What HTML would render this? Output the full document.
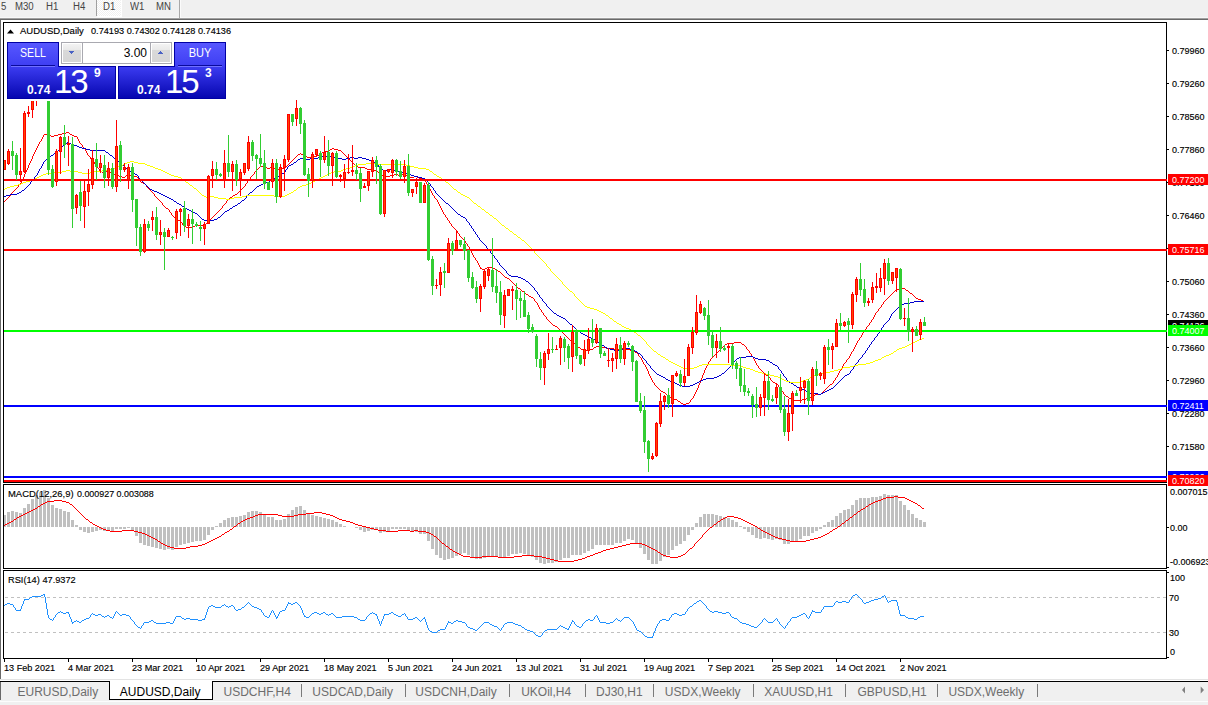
<!DOCTYPE html>
<html><head><meta charset="utf-8"><title>AUDUSD,Daily</title>
<style>
html,body{margin:0;padding:0;overflow:hidden;}
body{width:1208px;height:705px;overflow:hidden;background:#fff;position:relative;font-family:"Liberation Sans",sans-serif;}
.a{position:absolute;}
.t9{position:absolute;font-size:9.5px;line-height:11px;white-space:pre;color:#000;transform-origin:0 0;transform:scaleX(.947);-webkit-text-stroke:.15px #000;}
.tb{position:absolute;font-size:10px;line-height:11px;color:#444;white-space:pre;transform-origin:0 0;transform:scaleX(.96);}
.tab{position:absolute;font-size:12px;line-height:14px;color:#6d6d6d;white-space:pre;top:685px;}
.sep{position:absolute;width:1px;height:13px;top:684px;background:#7a7a7a;}
.pl{position:absolute;left:1168px;width:40px;height:11px;color:#fff;white-space:pre;overflow:hidden;}
.pl span{display:block;position:absolute;left:4px;top:0;font-size:9.5px;line-height:11px;transform-origin:0 0;transform:scaleX(.947);}
.ax{position:absolute;left:1172px;font-size:9.5px;line-height:11px;color:#000;white-space:pre;transform-origin:0 0;transform:scaleX(.947);-webkit-text-stroke:.15px #000;}
.tk{position:absolute;left:1167px;width:2px;height:1px;background:#000;}
</style></head><body>

<div class="a" style="left:0;top:0;width:1208px;height:17px;background:#f0f0f0"></div>
<div class="a" style="left:0;top:17px;width:1208px;height:1px;background:#f7f7f7"></div>
<div class="a" style="left:0;top:18px;width:1208px;height:1px;background:#a0a0a0"></div>
<div class="a" style="left:0;top:19px;width:1208px;height:1px;background:#696969"></div>
<div class="a" style="left:0;top:19px;width:1px;height:660px;background:#696969"></div>
<div class="a" style="left:96px;top:0;width:1px;height:16px;background:#a0a0a0"></div>
<svg class="a" style="left:97px;top:0" width="25" height="17" shape-rendering="crispEdges"><defs><pattern id="ck" width="2" height="2" patternUnits="userSpaceOnUse"><rect width="2" height="2" fill="#f0f0f0"/><rect width="1" height="1" fill="#fff"/><rect x="1" y="1" width="1" height="1" fill="#fff"/></pattern></defs><rect width="24" height="16" fill="url(#ck)"/><rect x="24" y="0" width="1" height="17" fill="#fff"/><rect x="0" y="16" width="25" height="1" fill="#fff"/></svg>
<div class="a" style="left:179px;top:0;width:1px;height:18px;background:#a8a8a8"></div>
<div class="a" style="left:180px;top:0;width:1px;height:18px;background:#fbfbfb"></div>
<div class="tb" style="left:0.5px;top:1px">5</div>
<div class="tb" style="left:15.2px;top:1px">M30</div>
<div class="tb" style="left:46px;top:1px">H1</div>
<div class="tb" style="left:73.2px;top:1px">H4</div>
<div class="tb" style="left:102.6px;top:1px">D1</div>
<div class="tb" style="left:130.2px;top:1px">W1</div>
<div class="tb" style="left:156px;top:1px">MN</div>
<div class="a" style="left:3px;top:22px;width:1164px;height:1px;background:#000"></div>
<div class="a" style="left:3px;top:22px;width:1px;height:637px;background:#000"></div>
<div class="a" style="left:1166px;top:22px;width:1px;height:637px;background:#000"></div>
<div class="a" style="left:3px;top:482px;width:1164px;height:1px;background:#000"></div>
<div class="a" style="left:1px;top:483px;width:1166px;height:1px;background:#fff"></div>
<div class="a" style="left:3px;top:484px;width:1164px;height:1px;background:#000"></div>
<div class="a" style="left:3px;top:568px;width:1164px;height:1px;background:#000"></div>
<div class="a" style="left:1px;top:569px;width:1166px;height:1px;background:#fff"></div>
<div class="a" style="left:3px;top:570px;width:1164px;height:1px;background:#000"></div>
<div class="a" style="left:3px;top:658px;width:1164px;height:1px;background:#000"></div>
<svg class="a" style="left:0;top:0" width="1208" height="705" viewBox="0 0 1208 705">
<defs><clipPath id="cm"><rect x="4" y="23" width="1162" height="459"/></clipPath><clipPath id="c2"><rect x="4" y="485" width="1162" height="83"/></clipPath><clipPath id="c3"><rect x="4" y="571" width="1162" height="87"/></clipPath></defs>
<path clip-path="url(#cm)" d="M4 201h1v1h-1zM5 200h1v1h-1zM6 199h1v1h-1zM7 198h1v1h-1zM8 197h1v1h-1zM9 196h1v1h-1zM10 194h1v2h-1zM11 193h1v1h-1zM12 192h1v1h-1zM13 191h1v1h-1zM14 190h1v1h-1zM15 189h1v1h-1zM16 188h1v1h-1zM17 187h1v1h-1zM18 185h1v2h-1zM19 184h1v1h-1zM20 183h1v1h-1zM21 181h1v2h-1zM22 179h1v2h-1zM23 177h1v2h-1zM24 174h1v3h-1zM25 172h1v2h-1zM26 170h1v2h-1zM27 168h1v2h-1zM28 165h1v3h-1zM29 163h1v2h-1zM30 161h1v2h-1zM31 159h1v2h-1zM32 156h1v3h-1zM33 154h1v2h-1zM34 152h1v2h-1zM35 150h1v2h-1zM36 148h1v2h-1zM37 146h1v2h-1zM38 144h1v2h-1zM39 142h1v2h-1zM40 141h1v1h-1zM41 139h1v2h-1zM42 137h1v2h-1zM43 135h1v2h-1zM44 134h1v1h-1zM45 134h1v1h-1zM46 134h1v1h-1zM47 134h1v1h-1zM48 134h1v1h-1zM49 135h1v1h-1zM50 135h1v1h-1zM51 136h1v1h-1zM52 136h1v1h-1zM53 136h1v1h-1zM54 135h1v1h-1zM55 135h1v1h-1zM56 135h1v1h-1zM57 135h1v1h-1zM58 134h1v1h-1zM59 134h1v1h-1zM60 134h1v1h-1zM61 134h1v1h-1zM62 133h1v1h-1zM63 133h1v1h-1zM64 133h1v1h-1zM65 133h1v1h-1zM66 132h1v1h-1zM67 132h1v1h-1zM68 132h1v1h-1zM69 133h1v1h-1zM70 134h1v1h-1zM71 134h1v1h-1zM72 135h1v1h-1zM73 135h1v1h-1zM74 136h1v1h-1zM75 136h1v1h-1zM76 136h1v1h-1zM77 137h1v2h-1zM78 139h1v2h-1zM79 141h1v2h-1zM80 143h1v1h-1zM81 144h1v1h-1zM82 145h1v2h-1zM83 147h1v1h-1zM84 148h1v1h-1zM85 149h1v2h-1zM86 151h1v2h-1zM87 153h1v2h-1zM88 155h1v1h-1zM89 156h1v1h-1zM90 157h1v2h-1zM91 159h1v1h-1zM92 160h1v1h-1zM93 161h1v1h-1zM94 162h1v2h-1zM95 164h1v1h-1zM96 165h1v1h-1zM97 166h1v2h-1zM98 168h1v1h-1zM99 169h1v2h-1zM100 171h1v1h-1zM101 171h1v1h-1zM102 172h1v1h-1zM103 172h1v1h-1zM104 172h1v1h-1zM105 172h1v1h-1zM106 171h1v1h-1zM107 171h1v1h-1zM108 171h1v1h-1zM109 172h1v1h-1zM110 172h1v1h-1zM111 173h1v1h-1zM112 173h1v1h-1zM113 173h1v1h-1zM114 174h1v1h-1zM115 174h1v1h-1zM116 174h1v1h-1zM117 175h1v1h-1zM118 175h1v1h-1zM119 176h1v1h-1zM120 176h1v1h-1zM121 176h1v1h-1zM122 177h1v1h-1zM123 177h1v1h-1zM124 177h1v1h-1zM125 176h1v1h-1zM126 175h1v1h-1zM127 175h1v1h-1zM128 174h1v1h-1zM129 174h1v1h-1zM130 175h1v1h-1zM131 175h1v1h-1zM132 175h1v1h-1zM133 175h1v1h-1zM134 176h1v1h-1zM135 176h1v1h-1zM136 176h1v1h-1zM137 177h1v1h-1zM138 178h1v2h-1zM139 180h1v1h-1zM140 181h1v1h-1zM141 182h1v1h-1zM142 182h1v1h-1zM143 183h1v1h-1zM144 183h1v1h-1zM145 184h1v1h-1zM146 185h1v2h-1zM147 187h1v1h-1zM148 188h1v1h-1zM149 189h1v1h-1zM150 190h1v1h-1zM151 191h1v1h-1zM152 192h1v1h-1zM153 193h1v1h-1zM154 194h1v2h-1zM155 196h1v1h-1zM156 197h1v1h-1zM157 198h1v1h-1zM158 199h1v1h-1zM159 200h1v1h-1zM160 201h1v1h-1zM161 202h1v1h-1zM162 203h1v2h-1zM163 205h1v1h-1zM164 206h1v1h-1zM165 207h1v1h-1zM166 208h1v1h-1zM167 208h1v1h-1zM168 209h1v1h-1zM169 210h1v2h-1zM170 212h1v1h-1zM171 213h1v2h-1zM172 215h1v1h-1zM173 216h1v1h-1zM174 217h1v1h-1zM175 217h1v1h-1zM176 218h1v1h-1zM177 219h1v1h-1zM178 220h1v1h-1zM179 220h1v1h-1zM180 221h1v1h-1zM181 222h1v1h-1zM182 223h1v2h-1zM183 225h1v1h-1zM184 226h1v1h-1zM185 226h1v1h-1zM186 227h1v1h-1zM187 227h1v1h-1zM188 227h1v1h-1zM189 227h1v1h-1zM190 227h1v1h-1zM191 227h1v1h-1zM192 227h1v1h-1zM193 226h1v1h-1zM194 226h1v1h-1zM195 225h1v1h-1zM196 225h1v1h-1zM197 225h1v1h-1zM198 225h1v1h-1zM199 225h1v1h-1zM200 225h1v1h-1zM201 225h1v1h-1zM202 225h1v1h-1zM203 225h1v1h-1zM204 225h1v1h-1zM205 224h1v1h-1zM206 223h1v1h-1zM207 223h1v1h-1zM208 222h1v1h-1zM209 221h1v1h-1zM210 219h1v2h-1zM211 218h1v1h-1zM212 217h1v1h-1zM213 216h1v1h-1zM214 215h1v1h-1zM215 214h1v1h-1zM216 213h1v1h-1zM217 212h1v1h-1zM218 211h1v1h-1zM219 210h1v1h-1zM220 209h1v1h-1zM221 208h1v1h-1zM222 206h1v2h-1zM223 205h1v1h-1zM224 204h1v1h-1zM225 203h1v1h-1zM226 201h1v2h-1zM227 200h1v1h-1zM228 199h1v1h-1zM229 198h1v1h-1zM230 197h1v1h-1zM231 197h1v1h-1zM232 196h1v1h-1zM233 195h1v1h-1zM234 195h1v1h-1zM235 194h1v1h-1zM236 194h1v1h-1zM237 193h1v1h-1zM238 192h1v1h-1zM239 191h1v1h-1zM240 190h1v1h-1zM241 189h1v1h-1zM242 188h1v1h-1zM243 187h1v1h-1zM244 186h1v1h-1zM245 184h1v2h-1zM246 183h1v1h-1zM247 181h1v2h-1zM248 180h1v1h-1zM249 179h1v1h-1zM250 177h1v2h-1zM251 176h1v1h-1zM252 175h1v1h-1zM253 174h1v1h-1zM254 172h1v2h-1zM255 171h1v1h-1zM256 170h1v1h-1zM257 169h1v1h-1zM258 168h1v1h-1zM259 167h1v1h-1zM260 166h1v1h-1zM261 166h1v1h-1zM262 166h1v1h-1zM263 166h1v1h-1zM264 166h1v1h-1zM265 167h1v1h-1zM266 167h1v1h-1zM267 168h1v1h-1zM268 168h1v1h-1zM269 168h1v1h-1zM270 167h1v1h-1zM271 167h1v1h-1zM272 167h1v1h-1zM273 168h1v1h-1zM274 168h1v1h-1zM275 169h1v1h-1zM276 169h1v1h-1zM277 169h1v1h-1zM278 169h1v1h-1zM279 169h1v1h-1zM280 169h1v1h-1zM281 169h1v1h-1zM282 168h1v1h-1zM283 168h1v1h-1zM284 168h1v1h-1zM285 167h1v1h-1zM286 166h1v1h-1zM287 165h1v1h-1zM288 164h1v1h-1zM289 163h1v1h-1zM290 162h1v1h-1zM291 161h1v1h-1zM292 160h1v1h-1zM293 159h1v1h-1zM294 158h1v1h-1zM295 157h1v1h-1zM296 156h1v1h-1zM297 155h1v1h-1zM298 154h1v1h-1zM299 154h1v1h-1zM300 153h1v1h-1zM301 154h1v1h-1zM302 154h1v1h-1zM303 155h1v1h-1zM304 155h1v1h-1zM305 156h1v1h-1zM306 156h1v1h-1zM307 157h1v1h-1zM308 157h1v1h-1zM309 157h1v1h-1zM310 157h1v1h-1zM311 157h1v1h-1zM312 157h1v1h-1zM313 157h1v1h-1zM314 156h1v1h-1zM315 156h1v1h-1zM316 156h1v1h-1zM317 155h1v1h-1zM318 155h1v1h-1zM319 154h1v1h-1zM320 154h1v1h-1zM321 153h1v1h-1zM322 152h1v1h-1zM323 152h1v1h-1zM324 151h1v1h-1zM325 151h1v1h-1zM326 151h1v1h-1zM327 151h1v1h-1zM328 151h1v1h-1zM329 150h1v1h-1zM330 149h1v1h-1zM331 149h1v1h-1zM332 148h1v1h-1zM333 148h1v1h-1zM334 149h1v1h-1zM335 149h1v1h-1zM336 149h1v1h-1zM337 149h1v1h-1zM338 150h1v1h-1zM339 150h1v1h-1zM340 150h1v1h-1zM341 151h1v1h-1zM342 152h1v1h-1zM343 153h1v1h-1zM344 154h1v1h-1zM345 155h1v1h-1zM346 156h1v1h-1zM347 157h1v1h-1zM348 158h1v1h-1zM349 159h1v1h-1zM350 160h1v1h-1zM351 161h1v1h-1zM352 162h1v1h-1zM353 163h1v1h-1zM354 164h1v1h-1zM355 165h1v1h-1zM356 166h1v1h-1zM357 166h1v1h-1zM358 167h1v1h-1zM359 167h1v1h-1zM360 167h1v1h-1zM361 167h1v1h-1zM362 167h1v1h-1zM363 167h1v1h-1zM364 167h1v1h-1zM365 168h1v1h-1zM366 168h1v1h-1zM367 169h1v1h-1zM368 169h1v1h-1zM369 169h1v1h-1zM370 169h1v1h-1zM371 169h1v1h-1zM372 169h1v1h-1zM373 169h1v1h-1zM374 170h1v1h-1zM375 170h1v1h-1zM376 170h1v1h-1zM377 171h1v1h-1zM378 172h1v1h-1zM379 173h1v1h-1zM380 174h1v1h-1zM381 174h1v1h-1zM382 175h1v1h-1zM383 175h1v1h-1zM384 175h1v1h-1zM385 175h1v1h-1zM386 176h1v1h-1zM387 176h1v1h-1zM388 176h1v1h-1zM389 176h1v1h-1zM390 175h1v1h-1zM391 175h1v1h-1zM392 175h1v1h-1zM393 175h1v1h-1zM394 174h1v1h-1zM395 174h1v1h-1zM396 174h1v1h-1zM397 174h1v1h-1zM398 175h1v1h-1zM399 175h1v1h-1zM400 175h1v1h-1zM401 175h1v1h-1zM402 174h1v1h-1zM403 174h1v1h-1zM404 174h1v1h-1zM405 175h1v1h-1zM406 175h1v1h-1zM407 176h1v1h-1zM408 176h1v1h-1zM409 176h1v1h-1zM410 177h1v1h-1zM411 177h1v1h-1zM412 177h1v1h-1zM413 177h1v1h-1zM414 176h1v1h-1zM415 176h1v1h-1zM416 176h1v1h-1zM417 177h1v1h-1zM418 177h1v1h-1zM419 178h1v1h-1zM420 178h1v1h-1zM421 178h1v1h-1zM422 179h1v1h-1zM423 179h1v1h-1zM424 179h1v1h-1zM425 180h1v2h-1zM426 182h1v2h-1zM427 184h1v2h-1zM428 186h1v1h-1zM429 187h1v2h-1zM430 189h1v2h-1zM431 191h1v2h-1zM432 193h1v2h-1zM433 195h1v1h-1zM434 196h1v2h-1zM435 198h1v1h-1zM436 199h1v1h-1zM437 200h1v2h-1zM438 202h1v2h-1zM439 204h1v2h-1zM440 206h1v2h-1zM441 208h1v2h-1zM442 210h1v2h-1zM443 212h1v2h-1zM444 214h1v1h-1zM445 215h1v2h-1zM446 217h1v1h-1zM447 218h1v2h-1zM448 220h1v1h-1zM449 221h1v2h-1zM450 223h1v1h-1zM451 224h1v2h-1zM452 226h1v1h-1zM453 227h1v1h-1zM454 228h1v1h-1zM455 229h1v1h-1zM456 230h1v1h-1zM457 231h1v2h-1zM458 233h1v1h-1zM459 234h1v2h-1zM460 236h1v1h-1zM461 237h1v1h-1zM462 238h1v1h-1zM463 239h1v1h-1zM464 240h1v1h-1zM465 241h1v2h-1zM466 243h1v1h-1zM467 244h1v2h-1zM468 246h1v1h-1zM469 247h1v2h-1zM470 249h1v2h-1zM471 251h1v2h-1zM472 253h1v2h-1zM473 255h1v2h-1zM474 257h1v1h-1zM475 258h1v2h-1zM476 260h1v1h-1zM477 261h1v2h-1zM478 263h1v2h-1zM479 265h1v2h-1zM480 267h1v2h-1zM481 268h1v1h-1zM482 269h1v1h-1zM483 269h1v1h-1zM484 269h1v1h-1zM485 268h1v1h-1zM486 268h1v1h-1zM487 267h1v1h-1zM488 267h1v1h-1zM489 267h1v1h-1zM490 267h1v1h-1zM491 267h1v1h-1zM492 267h1v1h-1zM493 268h1v1h-1zM494 268h1v1h-1zM495 269h1v1h-1zM496 269h1v1h-1zM497 270h1v1h-1zM498 271h1v1h-1zM499 271h1v1h-1zM500 272h1v1h-1zM501 273h1v1h-1zM502 274h1v1h-1zM503 275h1v1h-1zM504 276h1v1h-1zM505 277h1v1h-1zM506 277h1v1h-1zM507 278h1v1h-1zM508 278h1v1h-1zM509 279h1v1h-1zM510 280h1v1h-1zM511 281h1v1h-1zM512 282h1v1h-1zM513 283h1v1h-1zM514 284h1v1h-1zM515 285h1v1h-1zM516 286h1v1h-1zM517 287h1v1h-1zM518 288h1v1h-1zM519 288h1v1h-1zM520 289h1v1h-1zM521 290h1v1h-1zM522 291h1v1h-1zM523 291h1v1h-1zM524 292h1v1h-1zM525 293h1v1h-1zM526 294h1v1h-1zM527 294h1v1h-1zM528 295h1v1h-1zM529 296h1v1h-1zM530 296h1v1h-1zM531 297h1v1h-1zM532 297h1v1h-1zM533 298h1v1h-1zM534 299h1v2h-1zM535 301h1v1h-1zM536 302h1v1h-1zM537 303h1v2h-1zM538 305h1v2h-1zM539 307h1v2h-1zM540 309h1v1h-1zM541 310h1v2h-1zM542 312h1v1h-1zM543 313h1v2h-1zM544 315h1v1h-1zM545 316h1v1h-1zM546 317h1v2h-1zM547 319h1v1h-1zM548 320h1v1h-1zM549 321h1v1h-1zM550 322h1v1h-1zM551 323h1v1h-1zM552 324h1v1h-1zM553 325h1v1h-1zM554 325h1v1h-1zM555 326h1v1h-1zM556 326h1v1h-1zM557 327h1v1h-1zM558 328h1v1h-1zM559 329h1v1h-1zM560 330h1v1h-1zM561 331h1v1h-1zM562 332h1v1h-1zM563 333h1v1h-1zM564 334h1v1h-1zM565 335h1v1h-1zM566 336h1v1h-1zM567 337h1v1h-1zM568 338h1v1h-1zM569 339h1v1h-1zM570 340h1v1h-1zM571 340h1v1h-1zM572 341h1v1h-1zM573 342h1v1h-1zM574 343h1v1h-1zM575 344h1v1h-1zM576 345h1v1h-1zM577 346h1v1h-1zM578 347h1v1h-1zM579 347h1v1h-1zM580 348h1v1h-1zM581 349h1v1h-1zM582 349h1v1h-1zM583 350h1v1h-1zM584 350h1v1h-1zM585 350h1v1h-1zM586 350h1v1h-1zM587 350h1v1h-1zM588 350h1v1h-1zM589 350h1v1h-1zM590 349h1v1h-1zM591 349h1v1h-1zM592 349h1v1h-1zM593 348h1v1h-1zM594 347h1v1h-1zM595 347h1v1h-1zM596 346h1v1h-1zM597 346h1v1h-1zM598 346h1v1h-1zM599 346h1v1h-1zM600 346h1v1h-1zM601 346h1v1h-1zM602 347h1v1h-1zM603 347h1v1h-1zM604 347h1v1h-1zM605 347h1v1h-1zM606 348h1v1h-1zM607 348h1v1h-1zM608 348h1v1h-1zM609 348h1v1h-1zM610 348h1v1h-1zM611 348h1v1h-1zM612 348h1v1h-1zM613 348h1v1h-1zM614 349h1v1h-1zM615 349h1v1h-1zM616 349h1v1h-1zM617 349h1v1h-1zM618 349h1v1h-1zM619 349h1v1h-1zM620 349h1v1h-1zM621 349h1v1h-1zM622 348h1v1h-1zM623 348h1v1h-1zM624 348h1v1h-1zM625 348h1v1h-1zM626 349h1v1h-1zM627 349h1v1h-1zM628 349h1v1h-1zM629 349h1v1h-1zM630 350h1v1h-1zM631 350h1v1h-1zM632 350h1v1h-1zM633 351h1v1h-1zM634 351h1v1h-1zM635 352h1v1h-1zM636 352h1v1h-1zM637 353h1v1h-1zM638 354h1v2h-1zM639 356h1v1h-1zM640 357h1v1h-1zM641 358h1v2h-1zM642 360h1v2h-1zM643 362h1v2h-1zM644 364h1v1h-1zM645 365h1v2h-1zM646 367h1v2h-1zM647 369h1v2h-1zM648 371h1v3h-1zM649 374h1v2h-1zM650 376h1v2h-1zM651 378h1v2h-1zM652 380h1v2h-1zM653 382h1v1h-1zM654 383h1v2h-1zM655 385h1v1h-1zM656 386h1v1h-1zM657 387h1v1h-1zM658 388h1v1h-1zM659 389h1v1h-1zM660 390h1v1h-1zM661 391h1v1h-1zM662 391h1v1h-1zM663 392h1v1h-1zM664 392h1v1h-1zM665 393h1v1h-1zM666 394h1v1h-1zM667 395h1v1h-1zM668 396h1v1h-1zM669 397h1v1h-1zM670 397h1v1h-1zM671 398h1v1h-1zM672 398h1v1h-1zM673 398h1v1h-1zM674 399h1v1h-1zM675 399h1v1h-1zM676 399h1v1h-1zM677 400h1v1h-1zM678 401h1v1h-1zM679 401h1v1h-1zM680 402h1v1h-1zM681 403h1v1h-1zM682 403h1v1h-1zM683 404h1v1h-1zM684 404h1v1h-1zM685 404h1v1h-1zM686 403h1v1h-1zM687 403h1v1h-1zM688 403h1v1h-1zM689 402h1v1h-1zM690 400h1v2h-1zM691 399h1v1h-1zM692 398h1v1h-1zM693 396h1v2h-1zM694 394h1v2h-1zM695 392h1v2h-1zM696 390h1v2h-1zM697 388h1v2h-1zM698 385h1v3h-1zM699 383h1v2h-1zM700 380h1v3h-1zM701 378h1v2h-1zM702 375h1v3h-1zM703 373h1v2h-1zM704 370h1v3h-1zM705 368h1v2h-1zM706 366h1v2h-1zM707 364h1v2h-1zM708 362h1v2h-1zM709 361h1v1h-1zM710 359h1v2h-1zM711 358h1v1h-1zM712 357h1v1h-1zM713 356h1v1h-1zM714 355h1v1h-1zM715 354h1v1h-1zM716 353h1v1h-1zM717 352h1v1h-1zM718 351h1v1h-1zM719 350h1v1h-1zM720 349h1v1h-1zM721 348h1v1h-1zM722 347h1v1h-1zM723 346h1v1h-1zM724 345h1v1h-1zM725 344h1v1h-1zM726 344h1v1h-1zM727 343h1v1h-1zM728 343h1v1h-1zM729 343h1v1h-1zM730 343h1v1h-1zM731 343h1v1h-1zM732 343h1v1h-1zM733 343h1v1h-1zM734 342h1v1h-1zM735 342h1v1h-1zM736 342h1v1h-1zM737 342h1v1h-1zM738 342h1v1h-1zM739 342h1v1h-1zM740 342h1v1h-1zM741 343h1v1h-1zM742 344h1v1h-1zM743 344h1v1h-1zM744 345h1v1h-1zM745 346h1v1h-1zM746 347h1v2h-1zM747 349h1v1h-1zM748 350h1v1h-1zM749 351h1v2h-1zM750 353h1v1h-1zM751 354h1v2h-1zM752 356h1v1h-1zM753 357h1v2h-1zM754 359h1v2h-1zM755 361h1v2h-1zM756 363h1v2h-1zM757 365h1v1h-1zM758 366h1v2h-1zM759 368h1v1h-1zM760 369h1v1h-1zM761 370h1v1h-1zM762 371h1v1h-1zM763 372h1v1h-1zM764 373h1v1h-1zM765 374h1v1h-1zM766 375h1v1h-1zM767 375h1v1h-1zM768 376h1v1h-1zM769 377h1v1h-1zM770 378h1v2h-1zM771 380h1v1h-1zM772 381h1v1h-1zM773 382h1v1h-1zM774 382h1v1h-1zM775 383h1v1h-1zM776 383h1v1h-1zM777 384h1v1h-1zM778 385h1v2h-1zM779 387h1v1h-1zM780 388h1v1h-1zM781 389h1v2h-1zM782 391h1v1h-1zM783 392h1v2h-1zM784 394h1v1h-1zM785 395h1v1h-1zM786 396h1v1h-1zM787 396h1v1h-1zM788 397h1v1h-1zM789 398h1v1h-1zM790 398h1v1h-1zM791 399h1v1h-1zM792 399h1v1h-1zM793 399h1v1h-1zM794 400h1v1h-1zM795 400h1v1h-1zM796 400h1v1h-1zM797 400h1v1h-1zM798 400h1v1h-1zM799 400h1v1h-1zM800 400h1v1h-1zM801 400h1v1h-1zM802 399h1v1h-1zM803 399h1v1h-1zM804 399h1v1h-1zM805 399h1v1h-1zM806 398h1v1h-1zM807 398h1v1h-1zM808 398h1v1h-1zM809 397h1v1h-1zM810 397h1v1h-1zM811 396h1v1h-1zM812 396h1v1h-1zM813 395h1v1h-1zM814 395h1v1h-1zM815 394h1v1h-1zM816 394h1v1h-1zM817 394h1v1h-1zM818 394h1v1h-1zM819 394h1v1h-1zM820 394h1v1h-1zM821 393h1v1h-1zM822 392h1v1h-1zM823 391h1v1h-1zM824 390h1v1h-1zM825 389h1v1h-1zM826 388h1v1h-1zM827 387h1v1h-1zM828 386h1v1h-1zM829 385h1v1h-1zM830 384h1v1h-1zM831 384h1v1h-1zM832 383h1v1h-1zM833 381h1v2h-1zM834 380h1v1h-1zM835 378h1v2h-1zM836 377h1v1h-1zM837 375h1v2h-1zM838 373h1v2h-1zM839 371h1v2h-1zM840 370h1v1h-1zM841 368h1v2h-1zM842 366h1v2h-1zM843 364h1v2h-1zM844 363h1v1h-1zM845 362h1v1h-1zM846 360h1v2h-1zM847 359h1v1h-1zM848 358h1v1h-1zM849 356h1v2h-1zM850 354h1v2h-1zM851 352h1v2h-1zM852 351h1v1h-1zM853 349h1v2h-1zM854 347h1v2h-1zM855 345h1v2h-1zM856 343h1v2h-1zM857 341h1v2h-1zM858 340h1v1h-1zM859 338h1v2h-1zM860 337h1v1h-1zM861 335h1v2h-1zM862 333h1v2h-1zM863 331h1v2h-1zM864 330h1v1h-1zM865 329h1v1h-1zM866 327h1v2h-1zM867 326h1v1h-1zM868 325h1v1h-1zM869 323h1v2h-1zM870 322h1v1h-1zM871 320h1v2h-1zM872 319h1v1h-1zM873 317h1v2h-1zM874 315h1v2h-1zM875 313h1v2h-1zM876 312h1v1h-1zM877 311h1v1h-1zM878 309h1v2h-1zM879 308h1v1h-1zM880 307h1v1h-1zM881 305h1v2h-1zM882 304h1v1h-1zM883 302h1v2h-1zM884 301h1v1h-1zM885 300h1v1h-1zM886 299h1v1h-1zM887 298h1v1h-1zM888 297h1v1h-1zM889 296h1v1h-1zM890 295h1v1h-1zM891 294h1v1h-1zM892 293h1v1h-1zM893 292h1v1h-1zM894 291h1v1h-1zM895 290h1v1h-1zM896 289h1v1h-1zM897 289h1v1h-1zM898 289h1v1h-1zM899 289h1v1h-1zM900 289h1v1h-1zM901 289h1v1h-1zM902 288h1v1h-1zM903 288h1v1h-1zM904 288h1v1h-1zM905 289h1v1h-1zM906 290h1v1h-1zM907 290h1v1h-1zM908 291h1v1h-1zM909 292h1v1h-1zM910 293h1v1h-1zM911 293h1v1h-1zM912 294h1v1h-1zM913 295h1v1h-1zM914 296h1v1h-1zM915 297h1v1h-1zM916 298h1v1h-1zM917 298h1v1h-1zM918 299h1v1h-1zM919 299h1v1h-1zM920 299h1v1h-1zM921 300h1v1h-1zM922 300h1v1h-1zM923 301h1v1h-1z" fill="#ff0000" shape-rendering="crispEdges"/>
<path clip-path="url(#cm)" d="M4 196h1v1h-1zM5 196h1v1h-1zM6 195h1v1h-1zM7 195h1v1h-1zM8 195h1v1h-1zM9 195h1v1h-1zM10 194h1v1h-1zM11 194h1v1h-1zM12 194h1v1h-1zM13 194h1v1h-1zM14 194h1v1h-1zM15 194h1v1h-1zM16 194h1v1h-1zM17 193h1v1h-1zM18 193h1v1h-1zM19 192h1v1h-1zM20 192h1v1h-1zM21 191h1v1h-1zM22 190h1v1h-1zM23 190h1v1h-1zM24 189h1v1h-1zM25 188h1v1h-1zM26 187h1v1h-1zM27 186h1v1h-1zM28 185h1v1h-1zM29 184h1v1h-1zM30 182h1v2h-1zM31 181h1v1h-1zM32 180h1v1h-1zM33 179h1v1h-1zM34 177h1v2h-1zM35 176h1v1h-1zM36 175h1v1h-1zM37 173h1v2h-1zM38 171h1v2h-1zM39 169h1v2h-1zM40 168h1v1h-1zM41 166h1v2h-1zM42 164h1v2h-1zM43 162h1v2h-1zM44 161h1v1h-1zM45 160h1v1h-1zM46 159h1v1h-1zM47 158h1v1h-1zM48 157h1v1h-1zM49 156h1v1h-1zM50 156h1v1h-1zM51 155h1v1h-1zM52 155h1v1h-1zM53 154h1v1h-1zM54 153h1v1h-1zM55 153h1v1h-1zM56 152h1v1h-1zM57 151h1v1h-1zM58 150h1v1h-1zM59 149h1v1h-1zM60 148h1v1h-1zM61 147h1v1h-1zM62 146h1v1h-1zM63 145h1v1h-1zM64 144h1v1h-1zM65 143h1v1h-1zM66 143h1v1h-1zM67 142h1v1h-1zM68 142h1v1h-1zM69 143h1v1h-1zM70 143h1v1h-1zM71 144h1v1h-1zM72 144h1v1h-1zM73 144h1v1h-1zM74 145h1v1h-1zM75 145h1v1h-1zM76 145h1v1h-1zM77 146h1v1h-1zM78 146h1v1h-1zM79 147h1v1h-1zM80 147h1v1h-1zM81 147h1v1h-1zM82 148h1v1h-1zM83 148h1v1h-1zM84 148h1v1h-1zM85 148h1v1h-1zM86 149h1v1h-1zM87 149h1v1h-1zM88 149h1v1h-1zM89 149h1v1h-1zM90 150h1v1h-1zM91 150h1v1h-1zM92 150h1v1h-1zM93 150h1v1h-1zM94 150h1v1h-1zM95 150h1v1h-1zM96 150h1v1h-1zM97 150h1v1h-1zM98 150h1v1h-1zM99 150h1v1h-1zM100 150h1v1h-1zM101 150h1v1h-1zM102 150h1v1h-1zM103 150h1v1h-1zM104 150h1v1h-1zM105 151h1v1h-1zM106 152h1v1h-1zM107 152h1v1h-1zM108 153h1v1h-1zM109 154h1v1h-1zM110 155h1v1h-1zM111 155h1v1h-1zM112 156h1v1h-1zM113 157h1v1h-1zM114 158h1v1h-1zM115 158h1v1h-1zM116 159h1v1h-1zM117 160h1v1h-1zM118 161h1v1h-1zM119 162h1v1h-1zM120 163h1v1h-1zM121 164h1v1h-1zM122 165h1v1h-1zM123 165h1v1h-1zM124 166h1v1h-1zM125 167h1v1h-1zM126 168h1v1h-1zM127 169h1v1h-1zM128 170h1v1h-1zM129 171h1v1h-1zM130 171h1v1h-1zM131 172h1v1h-1zM132 172h1v1h-1zM133 173h1v1h-1zM134 173h1v1h-1zM135 174h1v1h-1zM136 174h1v1h-1zM137 175h1v1h-1zM138 176h1v2h-1zM139 178h1v1h-1zM140 179h1v1h-1zM141 180h1v1h-1zM142 181h1v1h-1zM143 182h1v1h-1zM144 183h1v1h-1zM145 184h1v1h-1zM146 185h1v1h-1zM147 186h1v1h-1zM148 187h1v1h-1zM149 188h1v1h-1zM150 189h1v1h-1zM151 189h1v1h-1zM152 190h1v1h-1zM153 190h1v1h-1zM154 191h1v1h-1zM155 191h1v1h-1zM156 191h1v1h-1zM157 192h1v1h-1zM158 192h1v1h-1zM159 193h1v1h-1zM160 193h1v1h-1zM161 194h1v1h-1zM162 194h1v1h-1zM163 195h1v1h-1zM164 195h1v1h-1zM165 196h1v1h-1zM166 196h1v1h-1zM167 197h1v1h-1zM168 197h1v1h-1zM169 198h1v1h-1zM170 198h1v1h-1zM171 199h1v1h-1zM172 199h1v1h-1zM173 200h1v1h-1zM174 201h1v1h-1zM175 201h1v1h-1zM176 202h1v1h-1zM177 203h1v1h-1zM178 203h1v1h-1zM179 204h1v1h-1zM180 204h1v1h-1zM181 205h1v1h-1zM182 206h1v1h-1zM183 206h1v1h-1zM184 207h1v1h-1zM185 208h1v1h-1zM186 208h1v1h-1zM187 209h1v1h-1zM188 209h1v1h-1zM189 210h1v1h-1zM190 210h1v1h-1zM191 211h1v1h-1zM192 211h1v1h-1zM193 212h1v1h-1zM194 212h1v1h-1zM195 213h1v1h-1zM196 213h1v1h-1zM197 214h1v1h-1zM198 215h1v1h-1zM199 216h1v1h-1zM200 217h1v1h-1zM201 218h1v1h-1zM202 219h1v1h-1zM203 219h1v1h-1zM204 220h1v1h-1zM205 220h1v1h-1zM206 220h1v1h-1zM207 220h1v1h-1zM208 220h1v1h-1zM209 220h1v1h-1zM210 220h1v1h-1zM211 220h1v1h-1zM212 220h1v1h-1zM213 220h1v1h-1zM214 219h1v1h-1zM215 219h1v1h-1zM216 219h1v1h-1zM217 218h1v1h-1zM218 217h1v1h-1zM219 217h1v1h-1zM220 216h1v1h-1zM221 215h1v1h-1zM222 214h1v1h-1zM223 213h1v1h-1zM224 212h1v1h-1zM225 211h1v1h-1zM226 211h1v1h-1zM227 210h1v1h-1zM228 210h1v1h-1zM229 209h1v1h-1zM230 208h1v1h-1zM231 208h1v1h-1zM232 207h1v1h-1zM233 206h1v1h-1zM234 206h1v1h-1zM235 205h1v1h-1zM236 205h1v1h-1zM237 204h1v1h-1zM238 203h1v1h-1zM239 203h1v1h-1zM240 202h1v1h-1zM241 201h1v1h-1zM242 200h1v1h-1zM243 200h1v1h-1zM244 199h1v1h-1zM245 198h1v1h-1zM246 196h1v2h-1zM247 195h1v1h-1zM248 194h1v1h-1zM249 193h1v1h-1zM250 192h1v1h-1zM251 192h1v1h-1zM252 191h1v1h-1zM253 190h1v1h-1zM254 189h1v1h-1zM255 188h1v1h-1zM256 187h1v1h-1zM257 186h1v1h-1zM258 186h1v1h-1zM259 185h1v1h-1zM260 185h1v1h-1zM261 184h1v1h-1zM262 184h1v1h-1zM263 183h1v1h-1zM264 183h1v1h-1zM265 183h1v1h-1zM266 182h1v1h-1zM267 182h1v1h-1zM268 182h1v1h-1zM269 181h1v1h-1zM270 180h1v1h-1zM271 180h1v1h-1zM272 179h1v1h-1zM273 179h1v1h-1zM274 178h1v1h-1zM275 178h1v1h-1zM276 178h1v1h-1zM277 177h1v1h-1zM278 176h1v1h-1zM279 176h1v1h-1zM280 175h1v1h-1zM281 174h1v1h-1zM282 173h1v1h-1zM283 173h1v1h-1zM284 172h1v1h-1zM285 170h1v2h-1zM286 169h1v1h-1zM287 167h1v2h-1zM288 166h1v1h-1zM289 165h1v1h-1zM290 165h1v1h-1zM291 164h1v1h-1zM292 164h1v1h-1zM293 163h1v1h-1zM294 162h1v1h-1zM295 162h1v1h-1zM296 161h1v1h-1zM297 160h1v1h-1zM298 159h1v1h-1zM299 159h1v1h-1zM300 158h1v1h-1zM301 158h1v1h-1zM302 158h1v1h-1zM303 158h1v1h-1zM304 158h1v1h-1zM305 158h1v1h-1zM306 159h1v1h-1zM307 159h1v1h-1zM308 159h1v1h-1zM309 159h1v1h-1zM310 158h1v1h-1zM311 158h1v1h-1zM312 158h1v1h-1zM313 158h1v1h-1zM314 158h1v1h-1zM315 158h1v1h-1zM316 158h1v1h-1zM317 158h1v1h-1zM318 157h1v1h-1zM319 157h1v1h-1zM320 157h1v1h-1zM321 157h1v1h-1zM322 156h1v1h-1zM323 156h1v1h-1zM324 156h1v1h-1zM325 156h1v1h-1zM326 156h1v1h-1zM327 156h1v1h-1zM328 156h1v1h-1zM329 156h1v1h-1zM330 156h1v1h-1zM331 156h1v1h-1zM332 156h1v1h-1zM333 156h1v1h-1zM334 157h1v1h-1zM335 157h1v1h-1zM336 157h1v1h-1zM337 157h1v1h-1zM338 158h1v1h-1zM339 158h1v1h-1zM340 158h1v1h-1zM341 158h1v1h-1zM342 159h1v1h-1zM343 159h1v1h-1zM344 159h1v1h-1zM345 159h1v1h-1zM346 158h1v1h-1zM347 158h1v1h-1zM348 158h1v1h-1zM349 158h1v1h-1zM350 157h1v1h-1zM351 157h1v1h-1zM352 157h1v1h-1zM353 157h1v1h-1zM354 158h1v1h-1zM355 158h1v1h-1zM356 158h1v1h-1zM357 158h1v1h-1zM358 157h1v1h-1zM359 157h1v1h-1zM360 157h1v1h-1zM361 157h1v1h-1zM362 158h1v1h-1zM363 158h1v1h-1zM364 158h1v1h-1zM365 158h1v1h-1zM366 159h1v1h-1zM367 159h1v1h-1zM368 159h1v1h-1zM369 160h1v1h-1zM370 160h1v1h-1zM371 161h1v1h-1zM372 161h1v1h-1zM373 162h1v1h-1zM374 162h1v1h-1zM375 163h1v1h-1zM376 163h1v1h-1zM377 164h1v1h-1zM378 165h1v2h-1zM379 167h1v1h-1zM380 168h1v1h-1zM381 169h1v1h-1zM382 169h1v1h-1zM383 170h1v1h-1zM384 170h1v1h-1zM385 170h1v1h-1zM386 170h1v1h-1zM387 170h1v1h-1zM388 170h1v1h-1zM389 170h1v1h-1zM390 169h1v1h-1zM391 169h1v1h-1zM392 169h1v1h-1zM393 169h1v1h-1zM394 170h1v1h-1zM395 170h1v1h-1zM396 170h1v1h-1zM397 170h1v1h-1zM398 171h1v1h-1zM399 171h1v1h-1zM400 171h1v1h-1zM401 171h1v1h-1zM402 172h1v1h-1zM403 172h1v1h-1zM404 172h1v1h-1zM405 172h1v1h-1zM406 173h1v1h-1zM407 173h1v1h-1zM408 173h1v1h-1zM409 174h1v1h-1zM410 174h1v1h-1zM411 175h1v1h-1zM412 175h1v1h-1zM413 175h1v1h-1zM414 176h1v1h-1zM415 176h1v1h-1zM416 176h1v1h-1zM417 176h1v1h-1zM418 177h1v1h-1zM419 177h1v1h-1zM420 177h1v1h-1zM421 177h1v1h-1zM422 178h1v1h-1zM423 178h1v1h-1zM424 178h1v1h-1zM425 179h1v1h-1zM426 180h1v1h-1zM427 181h1v1h-1zM428 182h1v1h-1zM429 183h1v1h-1zM430 184h1v2h-1zM431 186h1v1h-1zM432 187h1v1h-1zM433 188h1v2h-1zM434 190h1v1h-1zM435 191h1v2h-1zM436 193h1v1h-1zM437 194h1v1h-1zM438 195h1v1h-1zM439 196h1v1h-1zM440 197h1v1h-1zM441 198h1v1h-1zM442 199h1v1h-1zM443 200h1v1h-1zM444 201h1v1h-1zM445 202h1v1h-1zM446 203h1v1h-1zM447 203h1v1h-1zM448 204h1v1h-1zM449 205h1v1h-1zM450 206h1v1h-1zM451 207h1v1h-1zM452 208h1v1h-1zM453 209h1v1h-1zM454 210h1v1h-1zM455 211h1v1h-1zM456 212h1v1h-1zM457 213h1v1h-1zM458 214h1v1h-1zM459 214h1v1h-1zM460 215h1v1h-1zM461 216h1v1h-1zM462 216h1v1h-1zM463 217h1v1h-1zM464 217h1v1h-1zM465 218h1v1h-1zM466 219h1v2h-1zM467 221h1v1h-1zM468 222h1v1h-1zM469 223h1v2h-1zM470 225h1v1h-1zM471 226h1v2h-1zM472 228h1v1h-1zM473 229h1v2h-1zM474 231h1v1h-1zM475 232h1v2h-1zM476 234h1v1h-1zM477 235h1v2h-1zM478 237h1v1h-1zM479 238h1v2h-1zM480 240h1v1h-1zM481 241h1v1h-1zM482 242h1v1h-1zM483 243h1v1h-1zM484 244h1v1h-1zM485 245h1v1h-1zM486 246h1v2h-1zM487 248h1v1h-1zM488 249h1v1h-1zM489 250h1v1h-1zM490 251h1v2h-1zM491 253h1v1h-1zM492 254h1v1h-1zM493 255h1v1h-1zM494 256h1v2h-1zM495 258h1v1h-1zM496 259h1v1h-1zM497 260h1v2h-1zM498 262h1v1h-1zM499 263h1v2h-1zM500 265h1v1h-1zM501 266h1v1h-1zM502 267h1v1h-1zM503 268h1v1h-1zM504 269h1v1h-1zM505 270h1v1h-1zM506 271h1v2h-1zM507 273h1v1h-1zM508 274h1v1h-1zM509 275h1v1h-1zM510 275h1v1h-1zM511 276h1v1h-1zM512 276h1v1h-1zM513 276h1v1h-1zM514 276h1v1h-1zM515 276h1v1h-1zM516 276h1v1h-1zM517 276h1v1h-1zM518 277h1v1h-1zM519 277h1v1h-1zM520 277h1v1h-1zM521 278h1v1h-1zM522 278h1v1h-1zM523 279h1v1h-1zM524 279h1v1h-1zM525 280h1v1h-1zM526 281h1v1h-1zM527 281h1v1h-1zM528 282h1v1h-1zM529 283h1v1h-1zM530 284h1v1h-1zM531 285h1v1h-1zM532 286h1v1h-1zM533 287h1v1h-1zM534 288h1v2h-1zM535 290h1v1h-1zM536 291h1v1h-1zM537 292h1v2h-1zM538 294h1v1h-1zM539 295h1v2h-1zM540 297h1v1h-1zM541 298h1v1h-1zM542 299h1v2h-1zM543 301h1v1h-1zM544 302h1v1h-1zM545 303h1v1h-1zM546 304h1v2h-1zM547 306h1v1h-1zM548 307h1v1h-1zM549 308h1v1h-1zM550 309h1v1h-1zM551 310h1v1h-1zM552 311h1v1h-1zM553 312h1v1h-1zM554 313h1v1h-1zM555 313h1v1h-1zM556 314h1v1h-1zM557 315h1v1h-1zM558 315h1v1h-1zM559 316h1v1h-1zM560 316h1v1h-1zM561 317h1v1h-1zM562 317h1v1h-1zM563 318h1v1h-1zM564 318h1v1h-1zM565 319h1v1h-1zM566 320h1v1h-1zM567 321h1v1h-1zM568 322h1v1h-1zM569 323h1v1h-1zM570 324h1v1h-1zM571 324h1v1h-1zM572 325h1v1h-1zM573 326h1v1h-1zM574 327h1v1h-1zM575 328h1v1h-1zM576 329h1v1h-1zM577 330h1v1h-1zM578 331h1v1h-1zM579 331h1v1h-1zM580 332h1v1h-1zM581 333h1v1h-1zM582 333h1v1h-1zM583 334h1v1h-1zM584 334h1v1h-1zM585 335h1v1h-1zM586 335h1v1h-1zM587 336h1v1h-1zM588 336h1v1h-1zM589 337h1v1h-1zM590 337h1v1h-1zM591 338h1v1h-1zM592 338h1v1h-1zM593 339h1v1h-1zM594 339h1v1h-1zM595 340h1v1h-1zM596 340h1v1h-1zM597 341h1v1h-1zM598 342h1v1h-1zM599 342h1v1h-1zM600 343h1v1h-1zM601 344h1v1h-1zM602 345h1v1h-1zM603 345h1v1h-1zM604 346h1v1h-1zM605 347h1v1h-1zM606 347h1v1h-1zM607 348h1v1h-1zM608 348h1v1h-1zM609 348h1v1h-1zM610 349h1v1h-1zM611 349h1v1h-1zM612 349h1v1h-1zM613 349h1v1h-1zM614 350h1v1h-1zM615 350h1v1h-1zM616 350h1v1h-1zM617 350h1v1h-1zM618 350h1v1h-1zM619 350h1v1h-1zM620 350h1v1h-1zM621 350h1v1h-1zM622 349h1v1h-1zM623 349h1v1h-1zM624 349h1v1h-1zM625 349h1v1h-1zM626 348h1v1h-1zM627 348h1v1h-1zM628 348h1v1h-1zM629 348h1v1h-1zM630 349h1v1h-1zM631 349h1v1h-1zM632 349h1v1h-1zM633 350h1v1h-1zM634 350h1v1h-1zM635 351h1v1h-1zM636 351h1v1h-1zM637 352h1v1h-1zM638 353h1v1h-1zM639 353h1v1h-1zM640 354h1v1h-1zM641 355h1v1h-1zM642 356h1v2h-1zM643 358h1v1h-1zM644 359h1v1h-1zM645 360h1v1h-1zM646 361h1v2h-1zM647 363h1v1h-1zM648 364h1v1h-1zM649 365h1v1h-1zM650 366h1v2h-1zM651 368h1v1h-1zM652 369h1v1h-1zM653 370h1v1h-1zM654 371h1v1h-1zM655 372h1v1h-1zM656 373h1v1h-1zM657 374h1v1h-1zM658 374h1v1h-1zM659 375h1v1h-1zM660 375h1v1h-1zM661 376h1v1h-1zM662 376h1v1h-1zM663 377h1v1h-1zM664 377h1v1h-1zM665 378h1v1h-1zM666 379h1v1h-1zM667 379h1v1h-1zM668 380h1v1h-1zM669 380h1v1h-1zM670 381h1v1h-1zM671 381h1v1h-1zM672 381h1v1h-1zM673 382h1v1h-1zM674 382h1v1h-1zM675 383h1v1h-1zM676 383h1v1h-1zM677 384h1v1h-1zM678 384h1v1h-1zM679 385h1v1h-1zM680 385h1v1h-1zM681 385h1v1h-1zM682 386h1v1h-1zM683 386h1v1h-1zM684 386h1v1h-1zM685 386h1v1h-1zM686 386h1v1h-1zM687 386h1v1h-1zM688 386h1v1h-1zM689 386h1v1h-1zM690 385h1v1h-1zM691 385h1v1h-1zM692 385h1v1h-1zM693 384h1v1h-1zM694 384h1v1h-1zM695 383h1v1h-1zM696 383h1v1h-1zM697 382h1v1h-1zM698 382h1v1h-1zM699 381h1v1h-1zM700 381h1v1h-1zM701 380h1v1h-1zM702 380h1v1h-1zM703 379h1v1h-1zM704 379h1v1h-1zM705 379h1v1h-1zM706 378h1v1h-1zM707 378h1v1h-1zM708 378h1v1h-1zM709 378h1v1h-1zM710 378h1v1h-1zM711 378h1v1h-1zM712 378h1v1h-1zM713 378h1v1h-1zM714 377h1v1h-1zM715 377h1v1h-1zM716 377h1v1h-1zM717 376h1v1h-1zM718 376h1v1h-1zM719 375h1v1h-1zM720 375h1v1h-1zM721 374h1v1h-1zM722 373h1v1h-1zM723 373h1v1h-1zM724 372h1v1h-1zM725 371h1v1h-1zM726 370h1v1h-1zM727 369h1v1h-1zM728 368h1v1h-1zM729 367h1v1h-1zM730 365h1v2h-1zM731 364h1v1h-1zM732 363h1v1h-1zM733 362h1v1h-1zM734 361h1v1h-1zM735 360h1v1h-1zM736 359h1v1h-1zM737 358h1v1h-1zM738 358h1v1h-1zM739 357h1v1h-1zM740 357h1v1h-1zM741 357h1v1h-1zM742 357h1v1h-1zM743 357h1v1h-1zM744 357h1v1h-1zM745 357h1v1h-1zM746 356h1v1h-1zM747 356h1v1h-1zM748 356h1v1h-1zM749 356h1v1h-1zM750 356h1v1h-1zM751 356h1v1h-1zM752 356h1v1h-1zM753 357h1v1h-1zM754 357h1v1h-1zM755 358h1v1h-1zM756 358h1v1h-1zM757 358h1v1h-1zM758 359h1v1h-1zM759 359h1v1h-1zM760 359h1v1h-1zM761 359h1v1h-1zM762 359h1v1h-1zM763 359h1v1h-1zM764 359h1v1h-1zM765 359h1v1h-1zM766 360h1v1h-1zM767 360h1v1h-1zM768 360h1v1h-1zM769 361h1v1h-1zM770 362h1v1h-1zM771 362h1v1h-1zM772 363h1v1h-1zM773 364h1v1h-1zM774 364h1v1h-1zM775 365h1v1h-1zM776 365h1v1h-1zM777 366h1v1h-1zM778 367h1v2h-1zM779 369h1v1h-1zM780 370h1v1h-1zM781 371h1v2h-1zM782 373h1v1h-1zM783 374h1v2h-1zM784 376h1v1h-1zM785 377h1v1h-1zM786 378h1v2h-1zM787 380h1v1h-1zM788 381h1v1h-1zM789 382h1v1h-1zM790 382h1v1h-1zM791 383h1v1h-1zM792 383h1v1h-1zM793 384h1v1h-1zM794 385h1v1h-1zM795 385h1v1h-1zM796 386h1v1h-1zM797 387h1v1h-1zM798 387h1v1h-1zM799 388h1v1h-1zM800 388h1v1h-1zM801 388h1v1h-1zM802 389h1v1h-1zM803 389h1v1h-1zM804 389h1v1h-1zM805 390h1v1h-1zM806 391h1v1h-1zM807 391h1v1h-1zM808 392h1v1h-1zM809 392h1v1h-1zM810 393h1v1h-1zM811 393h1v1h-1zM812 393h1v1h-1zM813 393h1v1h-1zM814 393h1v1h-1zM815 393h1v1h-1zM816 393h1v1h-1zM817 393h1v1h-1zM818 394h1v1h-1zM819 394h1v1h-1zM820 394h1v1h-1zM821 393h1v1h-1zM822 393h1v1h-1zM823 392h1v1h-1zM824 392h1v1h-1zM825 391h1v1h-1zM826 391h1v1h-1zM827 390h1v1h-1zM828 390h1v1h-1zM829 389h1v1h-1zM830 389h1v1h-1zM831 388h1v1h-1zM832 388h1v1h-1zM833 387h1v1h-1zM834 386h1v1h-1zM835 385h1v1h-1zM836 384h1v1h-1zM837 383h1v1h-1zM838 382h1v1h-1zM839 381h1v1h-1zM840 380h1v1h-1zM841 379h1v1h-1zM842 378h1v1h-1zM843 377h1v1h-1zM844 376h1v1h-1zM845 375h1v1h-1zM846 375h1v1h-1zM847 374h1v1h-1zM848 374h1v1h-1zM849 373h1v1h-1zM850 371h1v2h-1zM851 370h1v1h-1zM852 369h1v1h-1zM853 367h1v2h-1zM854 366h1v1h-1zM855 364h1v2h-1zM856 363h1v1h-1zM857 362h1v1h-1zM858 360h1v2h-1zM859 359h1v1h-1zM860 358h1v1h-1zM861 357h1v1h-1zM862 355h1v2h-1zM863 354h1v1h-1zM864 353h1v1h-1zM865 351h1v2h-1zM866 350h1v1h-1zM867 348h1v2h-1zM868 347h1v1h-1zM869 345h1v2h-1zM870 344h1v1h-1zM871 342h1v2h-1zM872 341h1v1h-1zM873 340h1v1h-1zM874 338h1v2h-1zM875 337h1v1h-1zM876 336h1v1h-1zM877 334h1v2h-1zM878 333h1v1h-1zM879 331h1v2h-1zM880 330h1v1h-1zM881 328h1v2h-1zM882 327h1v1h-1zM883 325h1v2h-1zM884 324h1v1h-1zM885 323h1v1h-1zM886 322h1v1h-1zM887 321h1v1h-1zM888 320h1v1h-1zM889 318h1v2h-1zM890 316h1v2h-1zM891 314h1v2h-1zM892 313h1v1h-1zM893 312h1v1h-1zM894 311h1v1h-1zM895 310h1v1h-1zM896 309h1v1h-1zM897 308h1v1h-1zM898 307h1v1h-1zM899 307h1v1h-1zM900 306h1v1h-1zM901 305h1v1h-1zM902 304h1v1h-1zM903 304h1v1h-1zM904 303h1v1h-1zM905 303h1v1h-1zM906 303h1v1h-1zM907 303h1v1h-1zM908 303h1v1h-1zM909 303h1v1h-1zM910 302h1v1h-1zM911 302h1v1h-1zM912 302h1v1h-1zM913 302h1v1h-1zM914 301h1v1h-1zM915 301h1v1h-1zM916 301h1v1h-1zM917 301h1v1h-1zM918 301h1v1h-1zM919 301h1v1h-1zM920 301h1v1h-1zM921 301h1v1h-1zM922 301h1v1h-1zM923 301h1v1h-1z" fill="#0000cd" shape-rendering="crispEdges"/>
<path clip-path="url(#cm)" d="M4 189h1v1h-1zM5 188h1v1h-1zM6 188h1v1h-1zM7 187h1v1h-1zM8 187h1v1h-1zM9 187h1v1h-1zM10 186h1v1h-1zM11 186h1v1h-1zM12 186h1v1h-1zM13 186h1v1h-1zM14 185h1v1h-1zM15 185h1v1h-1zM16 185h1v1h-1zM17 185h1v1h-1zM18 184h1v1h-1zM19 184h1v1h-1zM20 184h1v1h-1zM21 183h1v1h-1zM22 183h1v1h-1zM23 182h1v1h-1zM24 182h1v1h-1zM25 182h1v1h-1zM26 181h1v1h-1zM27 181h1v1h-1zM28 181h1v1h-1zM29 181h1v1h-1zM30 180h1v1h-1zM31 180h1v1h-1zM32 180h1v1h-1zM33 179h1v1h-1zM34 179h1v1h-1zM35 178h1v1h-1zM36 178h1v1h-1zM37 177h1v1h-1zM38 177h1v1h-1zM39 176h1v1h-1zM40 176h1v1h-1zM41 175h1v1h-1zM42 175h1v1h-1zM43 174h1v1h-1zM44 174h1v1h-1zM45 174h1v1h-1zM46 173h1v1h-1zM47 173h1v1h-1zM48 173h1v1h-1zM49 173h1v1h-1zM50 173h1v1h-1zM51 173h1v1h-1zM52 173h1v1h-1zM53 173h1v1h-1zM54 172h1v1h-1zM55 172h1v1h-1zM56 172h1v1h-1zM57 172h1v1h-1zM58 172h1v1h-1zM59 172h1v1h-1zM60 172h1v1h-1zM61 172h1v1h-1zM62 171h1v1h-1zM63 171h1v1h-1zM64 171h1v1h-1zM65 171h1v1h-1zM66 170h1v1h-1zM67 170h1v1h-1zM68 170h1v1h-1zM69 170h1v1h-1zM70 171h1v1h-1zM71 171h1v1h-1zM72 171h1v1h-1zM73 171h1v1h-1zM74 171h1v1h-1zM75 171h1v1h-1zM76 171h1v1h-1zM77 171h1v1h-1zM78 172h1v1h-1zM79 172h1v1h-1zM80 172h1v1h-1zM81 172h1v1h-1zM82 173h1v1h-1zM83 173h1v1h-1zM84 173h1v1h-1zM85 173h1v1h-1zM86 173h1v1h-1zM87 173h1v1h-1zM88 173h1v1h-1zM89 173h1v1h-1zM90 172h1v1h-1zM91 172h1v1h-1zM92 172h1v1h-1zM93 172h1v1h-1zM94 171h1v1h-1zM95 171h1v1h-1zM96 171h1v1h-1zM97 171h1v1h-1zM98 171h1v1h-1zM99 171h1v1h-1zM100 171h1v1h-1zM101 171h1v1h-1zM102 170h1v1h-1zM103 170h1v1h-1zM104 170h1v1h-1zM105 170h1v1h-1zM106 170h1v1h-1zM107 170h1v1h-1zM108 170h1v1h-1zM109 170h1v1h-1zM110 169h1v1h-1zM111 169h1v1h-1zM112 169h1v1h-1zM113 168h1v1h-1zM114 168h1v1h-1zM115 167h1v1h-1zM116 167h1v1h-1zM117 167h1v1h-1zM118 166h1v1h-1zM119 166h1v1h-1zM120 166h1v1h-1zM121 165h1v1h-1zM122 165h1v1h-1zM123 164h1v1h-1zM124 164h1v1h-1zM125 163h1v1h-1zM126 163h1v1h-1zM127 162h1v1h-1zM128 162h1v1h-1zM129 162h1v1h-1zM130 161h1v1h-1zM131 161h1v1h-1zM132 161h1v1h-1zM133 161h1v1h-1zM134 162h1v1h-1zM135 162h1v1h-1zM136 162h1v1h-1zM137 162h1v1h-1zM138 163h1v1h-1zM139 163h1v1h-1zM140 163h1v1h-1zM141 163h1v1h-1zM142 163h1v1h-1zM143 163h1v1h-1zM144 163h1v1h-1zM145 164h1v1h-1zM146 164h1v1h-1zM147 165h1v1h-1zM148 165h1v1h-1zM149 165h1v1h-1zM150 166h1v1h-1zM151 166h1v1h-1zM152 166h1v1h-1zM153 167h1v1h-1zM154 167h1v1h-1zM155 168h1v1h-1zM156 168h1v1h-1zM157 168h1v1h-1zM158 169h1v1h-1zM159 169h1v1h-1zM160 169h1v1h-1zM161 170h1v1h-1zM162 170h1v1h-1zM163 171h1v1h-1zM164 171h1v1h-1zM165 172h1v1h-1zM166 172h1v1h-1zM167 173h1v1h-1zM168 173h1v1h-1zM169 174h1v1h-1zM170 174h1v1h-1zM171 175h1v1h-1zM172 175h1v1h-1zM173 175h1v1h-1zM174 176h1v1h-1zM175 176h1v1h-1zM176 176h1v1h-1zM177 176h1v1h-1zM178 177h1v1h-1zM179 177h1v1h-1zM180 177h1v1h-1zM181 178h1v1h-1zM182 179h1v1h-1zM183 179h1v1h-1zM184 180h1v1h-1zM185 181h1v1h-1zM186 182h1v1h-1zM187 182h1v1h-1zM188 183h1v1h-1zM189 184h1v1h-1zM190 185h1v1h-1zM191 185h1v1h-1zM192 186h1v1h-1zM193 187h1v1h-1zM194 188h1v1h-1zM195 188h1v1h-1zM196 189h1v1h-1zM197 190h1v1h-1zM198 191h1v1h-1zM199 192h1v1h-1zM200 193h1v1h-1zM201 194h1v1h-1zM202 195h1v1h-1zM203 195h1v1h-1zM204 196h1v1h-1zM205 196h1v1h-1zM206 197h1v1h-1zM207 197h1v1h-1zM208 197h1v1h-1zM209 197h1v1h-1zM210 196h1v1h-1zM211 196h1v1h-1zM212 196h1v1h-1zM213 196h1v1h-1zM214 197h1v1h-1zM215 197h1v1h-1zM216 197h1v1h-1zM217 197h1v1h-1zM218 198h1v1h-1zM219 198h1v1h-1zM220 198h1v1h-1zM221 198h1v1h-1zM222 198h1v1h-1zM223 198h1v1h-1zM224 198h1v1h-1zM225 198h1v1h-1zM226 199h1v1h-1zM227 199h1v1h-1zM228 199h1v1h-1zM229 199h1v1h-1zM230 198h1v1h-1zM231 198h1v1h-1zM232 198h1v1h-1zM233 198h1v1h-1zM234 197h1v1h-1zM235 197h1v1h-1zM236 197h1v1h-1zM237 197h1v1h-1zM238 197h1v1h-1zM239 197h1v1h-1zM240 197h1v1h-1zM241 197h1v1h-1zM242 196h1v1h-1zM243 196h1v1h-1zM244 196h1v1h-1zM245 196h1v1h-1zM246 195h1v1h-1zM247 195h1v1h-1zM248 195h1v1h-1zM249 195h1v1h-1zM250 195h1v1h-1zM251 195h1v1h-1zM252 195h1v1h-1zM253 195h1v1h-1zM254 195h1v1h-1zM255 195h1v1h-1zM256 195h1v1h-1zM257 195h1v1h-1zM258 195h1v1h-1zM259 195h1v1h-1zM260 195h1v1h-1zM261 195h1v1h-1zM262 195h1v1h-1zM263 195h1v1h-1zM264 195h1v1h-1zM265 195h1v1h-1zM266 195h1v1h-1zM267 195h1v1h-1zM268 195h1v1h-1zM269 195h1v1h-1zM270 195h1v1h-1zM271 195h1v1h-1zM272 195h1v1h-1zM273 195h1v1h-1zM274 196h1v1h-1zM275 196h1v1h-1zM276 196h1v1h-1zM277 196h1v1h-1zM278 196h1v1h-1zM279 196h1v1h-1zM280 196h1v1h-1zM281 196h1v1h-1zM282 196h1v1h-1zM283 196h1v1h-1zM284 196h1v1h-1zM285 195h1v1h-1zM286 195h1v1h-1zM287 194h1v1h-1zM288 194h1v1h-1zM289 193h1v1h-1zM290 193h1v1h-1zM291 192h1v1h-1zM292 192h1v1h-1zM293 191h1v1h-1zM294 190h1v1h-1zM295 190h1v1h-1zM296 189h1v1h-1zM297 188h1v1h-1zM298 187h1v1h-1zM299 187h1v1h-1zM300 186h1v1h-1zM301 186h1v1h-1zM302 185h1v1h-1zM303 185h1v1h-1zM304 185h1v1h-1zM305 185h1v1h-1zM306 184h1v1h-1zM307 184h1v1h-1zM308 184h1v1h-1zM309 183h1v1h-1zM310 183h1v1h-1zM311 182h1v1h-1zM312 182h1v1h-1zM313 181h1v1h-1zM314 181h1v1h-1zM315 180h1v1h-1zM316 180h1v1h-1zM317 179h1v1h-1zM318 179h1v1h-1zM319 178h1v1h-1zM320 178h1v1h-1zM321 177h1v1h-1zM322 177h1v1h-1zM323 176h1v1h-1zM324 176h1v1h-1zM325 175h1v1h-1zM326 175h1v1h-1zM327 174h1v1h-1zM328 174h1v1h-1zM329 173h1v1h-1zM330 173h1v1h-1zM331 172h1v1h-1zM332 172h1v1h-1zM333 172h1v1h-1zM334 171h1v1h-1zM335 171h1v1h-1zM336 171h1v1h-1zM337 171h1v1h-1zM338 171h1v1h-1zM339 171h1v1h-1zM340 171h1v1h-1zM341 170h1v1h-1zM342 170h1v1h-1zM343 169h1v1h-1zM344 169h1v1h-1zM345 169h1v1h-1zM346 168h1v1h-1zM347 168h1v1h-1zM348 168h1v1h-1zM349 168h1v1h-1zM350 167h1v1h-1zM351 167h1v1h-1zM352 167h1v1h-1zM353 166h1v1h-1zM354 166h1v1h-1zM355 165h1v1h-1zM356 165h1v1h-1zM357 165h1v1h-1zM358 164h1v1h-1zM359 164h1v1h-1zM360 164h1v1h-1zM361 164h1v1h-1zM362 164h1v1h-1zM363 164h1v1h-1zM364 164h1v1h-1zM365 164h1v1h-1zM366 163h1v1h-1zM367 163h1v1h-1zM368 163h1v1h-1zM369 163h1v1h-1zM370 163h1v1h-1zM371 163h1v1h-1zM372 163h1v1h-1zM373 163h1v1h-1zM374 163h1v1h-1zM375 163h1v1h-1zM376 163h1v1h-1zM377 163h1v1h-1zM378 164h1v1h-1zM379 164h1v1h-1zM380 164h1v1h-1zM381 164h1v1h-1zM382 164h1v1h-1zM383 164h1v1h-1zM384 164h1v1h-1zM385 164h1v1h-1zM386 164h1v1h-1zM387 164h1v1h-1zM388 164h1v1h-1zM389 164h1v1h-1zM390 164h1v1h-1zM391 164h1v1h-1zM392 164h1v1h-1zM393 164h1v1h-1zM394 164h1v1h-1zM395 164h1v1h-1zM396 164h1v1h-1zM397 164h1v1h-1zM398 164h1v1h-1zM399 164h1v1h-1zM400 164h1v1h-1zM401 164h1v1h-1zM402 164h1v1h-1zM403 164h1v1h-1zM404 164h1v1h-1zM405 164h1v1h-1zM406 165h1v1h-1zM407 165h1v1h-1zM408 165h1v1h-1zM409 165h1v1h-1zM410 166h1v1h-1zM411 166h1v1h-1zM412 166h1v1h-1zM413 166h1v1h-1zM414 167h1v1h-1zM415 167h1v1h-1zM416 167h1v1h-1zM417 167h1v1h-1zM418 168h1v1h-1zM419 168h1v1h-1zM420 168h1v1h-1zM421 168h1v1h-1zM422 168h1v1h-1zM423 168h1v1h-1zM424 168h1v1h-1zM425 168h1v1h-1zM426 169h1v1h-1zM427 169h1v1h-1zM428 169h1v1h-1zM429 170h1v1h-1zM430 171h1v1h-1zM431 171h1v1h-1zM432 172h1v1h-1zM433 173h1v1h-1zM434 174h1v1h-1zM435 174h1v1h-1zM436 175h1v1h-1zM437 176h1v1h-1zM438 176h1v1h-1zM439 177h1v1h-1zM440 177h1v1h-1zM441 178h1v1h-1zM442 179h1v1h-1zM443 179h1v1h-1zM444 180h1v1h-1zM445 181h1v1h-1zM446 182h1v1h-1zM447 182h1v1h-1zM448 183h1v1h-1zM449 184h1v1h-1zM450 185h1v1h-1zM451 186h1v1h-1zM452 187h1v1h-1zM453 188h1v1h-1zM454 189h1v1h-1zM455 189h1v1h-1zM456 190h1v1h-1zM457 191h1v1h-1zM458 192h1v1h-1zM459 192h1v1h-1zM460 193h1v1h-1zM461 194h1v1h-1zM462 194h1v1h-1zM463 195h1v1h-1zM464 195h1v1h-1zM465 196h1v1h-1zM466 196h1v1h-1zM467 197h1v1h-1zM468 197h1v1h-1zM469 198h1v1h-1zM470 199h1v1h-1zM471 200h1v1h-1zM472 201h1v1h-1zM473 202h1v1h-1zM474 203h1v1h-1zM475 203h1v1h-1zM476 204h1v1h-1zM477 205h1v1h-1zM478 206h1v1h-1zM479 206h1v1h-1zM480 207h1v1h-1zM481 208h1v1h-1zM482 209h1v1h-1zM483 209h1v1h-1zM484 210h1v1h-1zM485 211h1v1h-1zM486 212h1v1h-1zM487 212h1v1h-1zM488 213h1v1h-1zM489 214h1v1h-1zM490 215h1v1h-1zM491 215h1v1h-1zM492 216h1v1h-1zM493 217h1v1h-1zM494 218h1v1h-1zM495 218h1v1h-1zM496 219h1v1h-1zM497 220h1v1h-1zM498 221h1v1h-1zM499 222h1v1h-1zM500 223h1v1h-1zM501 224h1v1h-1zM502 225h1v1h-1zM503 225h1v1h-1zM504 226h1v1h-1zM505 227h1v1h-1zM506 228h1v1h-1zM507 228h1v1h-1zM508 229h1v1h-1zM509 230h1v1h-1zM510 231h1v1h-1zM511 231h1v1h-1zM512 232h1v1h-1zM513 233h1v1h-1zM514 234h1v1h-1zM515 234h1v1h-1zM516 235h1v1h-1zM517 236h1v1h-1zM518 237h1v1h-1zM519 237h1v1h-1zM520 238h1v1h-1zM521 239h1v1h-1zM522 240h1v1h-1zM523 240h1v1h-1zM524 241h1v1h-1zM525 242h1v1h-1zM526 243h1v1h-1zM527 244h1v1h-1zM528 245h1v1h-1zM529 246h1v1h-1zM530 247h1v1h-1zM531 248h1v1h-1zM532 249h1v1h-1zM533 250h1v1h-1zM534 251h1v2h-1zM535 253h1v1h-1zM536 254h1v1h-1zM537 255h1v1h-1zM538 256h1v1h-1zM539 257h1v1h-1zM540 258h1v1h-1zM541 259h1v1h-1zM542 260h1v1h-1zM543 261h1v1h-1zM544 262h1v1h-1zM545 263h1v1h-1zM546 264h1v2h-1zM547 266h1v1h-1zM548 267h1v1h-1zM549 268h1v1h-1zM550 269h1v2h-1zM551 271h1v1h-1zM552 272h1v1h-1zM553 273h1v1h-1zM554 274h1v1h-1zM555 275h1v1h-1zM556 276h1v1h-1zM557 277h1v1h-1zM558 278h1v1h-1zM559 279h1v1h-1zM560 280h1v1h-1zM561 281h1v1h-1zM562 282h1v2h-1zM563 284h1v1h-1zM564 285h1v1h-1zM565 286h1v1h-1zM566 287h1v1h-1zM567 288h1v1h-1zM568 289h1v1h-1zM569 290h1v1h-1zM570 291h1v1h-1zM571 291h1v1h-1zM572 292h1v1h-1zM573 293h1v1h-1zM574 294h1v2h-1zM575 296h1v1h-1zM576 297h1v1h-1zM577 298h1v1h-1zM578 299h1v1h-1zM579 300h1v1h-1zM580 301h1v1h-1zM581 302h1v1h-1zM582 303h1v1h-1zM583 304h1v1h-1zM584 305h1v1h-1zM585 306h1v1h-1zM586 306h1v1h-1zM587 307h1v1h-1zM588 307h1v1h-1zM589 307h1v1h-1zM590 308h1v1h-1zM591 308h1v1h-1zM592 308h1v1h-1zM593 308h1v1h-1zM594 309h1v1h-1zM595 309h1v1h-1zM596 309h1v1h-1zM597 310h1v1h-1zM598 310h1v1h-1zM599 311h1v1h-1zM600 311h1v1h-1zM601 312h1v1h-1zM602 312h1v1h-1zM603 313h1v1h-1zM604 313h1v1h-1zM605 314h1v1h-1zM606 315h1v1h-1zM607 315h1v1h-1zM608 316h1v1h-1zM609 317h1v1h-1zM610 318h1v1h-1zM611 318h1v1h-1zM612 319h1v1h-1zM613 320h1v1h-1zM614 321h1v1h-1zM615 321h1v1h-1zM616 322h1v1h-1zM617 323h1v1h-1zM618 323h1v1h-1zM619 324h1v1h-1zM620 324h1v1h-1zM621 325h1v1h-1zM622 326h1v1h-1zM623 326h1v1h-1zM624 327h1v1h-1zM625 327h1v1h-1zM626 328h1v1h-1zM627 328h1v1h-1zM628 328h1v1h-1zM629 329h1v1h-1zM630 329h1v1h-1zM631 330h1v1h-1zM632 330h1v1h-1zM633 331h1v1h-1zM634 332h1v1h-1zM635 332h1v1h-1zM636 333h1v1h-1zM637 334h1v1h-1zM638 335h1v1h-1zM639 335h1v1h-1zM640 336h1v1h-1zM641 337h1v1h-1zM642 338h1v1h-1zM643 339h1v1h-1zM644 340h1v1h-1zM645 341h1v1h-1zM646 342h1v2h-1zM647 344h1v1h-1zM648 345h1v1h-1zM649 346h1v1h-1zM650 347h1v1h-1zM651 348h1v1h-1zM652 349h1v1h-1zM653 350h1v1h-1zM654 351h1v1h-1zM655 351h1v1h-1zM656 352h1v1h-1zM657 353h1v1h-1zM658 354h1v1h-1zM659 354h1v1h-1zM660 355h1v1h-1zM661 356h1v1h-1zM662 356h1v1h-1zM663 357h1v1h-1zM664 357h1v1h-1zM665 358h1v1h-1zM666 359h1v1h-1zM667 359h1v1h-1zM668 360h1v1h-1zM669 361h1v1h-1zM670 361h1v1h-1zM671 362h1v1h-1zM672 362h1v1h-1zM673 363h1v1h-1zM674 363h1v1h-1zM675 364h1v1h-1zM676 364h1v1h-1zM677 365h1v1h-1zM678 365h1v1h-1zM679 366h1v1h-1zM680 366h1v1h-1zM681 367h1v1h-1zM682 367h1v1h-1zM683 368h1v1h-1zM684 368h1v1h-1zM685 368h1v1h-1zM686 368h1v1h-1zM687 368h1v1h-1zM688 368h1v1h-1zM689 368h1v1h-1zM690 368h1v1h-1zM691 368h1v1h-1zM692 368h1v1h-1zM693 368h1v1h-1zM694 367h1v1h-1zM695 367h1v1h-1zM696 367h1v1h-1zM697 366h1v1h-1zM698 366h1v1h-1zM699 365h1v1h-1zM700 365h1v1h-1zM701 365h1v1h-1zM702 364h1v1h-1zM703 364h1v1h-1zM704 364h1v1h-1zM705 364h1v1h-1zM706 364h1v1h-1zM707 364h1v1h-1zM708 364h1v1h-1zM709 364h1v1h-1zM710 364h1v1h-1zM711 364h1v1h-1zM712 364h1v1h-1zM713 364h1v1h-1zM714 364h1v1h-1zM715 364h1v1h-1zM716 364h1v1h-1zM717 364h1v1h-1zM718 364h1v1h-1zM719 364h1v1h-1zM720 364h1v1h-1zM721 364h1v1h-1zM722 364h1v1h-1zM723 364h1v1h-1zM724 364h1v1h-1zM725 364h1v1h-1zM726 364h1v1h-1zM727 364h1v1h-1zM728 364h1v1h-1zM729 364h1v1h-1zM730 365h1v1h-1zM731 365h1v1h-1zM732 365h1v1h-1zM733 365h1v1h-1zM734 365h1v1h-1zM735 365h1v1h-1zM736 365h1v1h-1zM737 365h1v1h-1zM738 365h1v1h-1zM739 365h1v1h-1zM740 365h1v1h-1zM741 366h1v1h-1zM742 366h1v1h-1zM743 367h1v1h-1zM744 367h1v1h-1zM745 367h1v1h-1zM746 368h1v1h-1zM747 368h1v1h-1zM748 368h1v1h-1zM749 368h1v1h-1zM750 369h1v1h-1zM751 369h1v1h-1zM752 369h1v1h-1zM753 370h1v1h-1zM754 370h1v1h-1zM755 371h1v1h-1zM756 371h1v1h-1zM757 371h1v1h-1zM758 372h1v1h-1zM759 372h1v1h-1zM760 372h1v1h-1zM761 372h1v1h-1zM762 373h1v1h-1zM763 373h1v1h-1zM764 373h1v1h-1zM765 373h1v1h-1zM766 374h1v1h-1zM767 374h1v1h-1zM768 374h1v1h-1zM769 374h1v1h-1zM770 375h1v1h-1zM771 375h1v1h-1zM772 375h1v1h-1zM773 375h1v1h-1zM774 376h1v1h-1zM775 376h1v1h-1zM776 376h1v1h-1zM777 376h1v1h-1zM778 377h1v1h-1zM779 377h1v1h-1zM780 377h1v1h-1zM781 378h1v1h-1zM782 379h1v1h-1zM783 379h1v1h-1zM784 380h1v1h-1zM785 380h1v1h-1zM786 381h1v1h-1zM787 381h1v1h-1zM788 381h1v1h-1zM789 381h1v1h-1zM790 382h1v1h-1zM791 382h1v1h-1zM792 382h1v1h-1zM793 382h1v1h-1zM794 382h1v1h-1zM795 382h1v1h-1zM796 382h1v1h-1zM797 382h1v1h-1zM798 382h1v1h-1zM799 382h1v1h-1zM800 382h1v1h-1zM801 381h1v1h-1zM802 381h1v1h-1zM803 380h1v1h-1zM804 380h1v1h-1zM805 380h1v1h-1zM806 379h1v1h-1zM807 379h1v1h-1zM808 379h1v1h-1zM809 378h1v1h-1zM810 377h1v1h-1zM811 377h1v1h-1zM812 376h1v1h-1zM813 376h1v1h-1zM814 375h1v1h-1zM815 375h1v1h-1zM816 375h1v1h-1zM817 375h1v1h-1zM818 374h1v1h-1zM819 374h1v1h-1zM820 374h1v1h-1zM821 374h1v1h-1zM822 373h1v1h-1zM823 373h1v1h-1zM824 373h1v1h-1zM825 373h1v1h-1zM826 372h1v1h-1zM827 372h1v1h-1zM828 372h1v1h-1zM829 372h1v1h-1zM830 371h1v1h-1zM831 371h1v1h-1zM832 371h1v1h-1zM833 371h1v1h-1zM834 370h1v1h-1zM835 370h1v1h-1zM836 370h1v1h-1zM837 370h1v1h-1zM838 369h1v1h-1zM839 369h1v1h-1zM840 369h1v1h-1zM841 368h1v1h-1zM842 368h1v1h-1zM843 367h1v1h-1zM844 367h1v1h-1zM845 367h1v1h-1zM846 367h1v1h-1zM847 367h1v1h-1zM848 367h1v1h-1zM849 367h1v1h-1zM850 366h1v1h-1zM851 366h1v1h-1zM852 366h1v1h-1zM853 366h1v1h-1zM854 365h1v1h-1zM855 365h1v1h-1zM856 365h1v1h-1zM857 365h1v1h-1zM858 364h1v1h-1zM859 364h1v1h-1zM860 364h1v1h-1zM861 364h1v1h-1zM862 364h1v1h-1zM863 364h1v1h-1zM864 364h1v1h-1zM865 364h1v1h-1zM866 363h1v1h-1zM867 363h1v1h-1zM868 363h1v1h-1zM869 363h1v1h-1zM870 362h1v1h-1zM871 362h1v1h-1zM872 362h1v1h-1zM873 361h1v1h-1zM874 361h1v1h-1zM875 360h1v1h-1zM876 360h1v1h-1zM877 360h1v1h-1zM878 359h1v1h-1zM879 359h1v1h-1zM880 359h1v1h-1zM881 358h1v1h-1zM882 357h1v1h-1zM883 357h1v1h-1zM884 356h1v1h-1zM885 356h1v1h-1zM886 355h1v1h-1zM887 355h1v1h-1zM888 355h1v1h-1zM889 354h1v1h-1zM890 354h1v1h-1zM891 353h1v1h-1zM892 353h1v1h-1zM893 352h1v1h-1zM894 351h1v1h-1zM895 351h1v1h-1zM896 350h1v1h-1zM897 349h1v1h-1zM898 349h1v1h-1zM899 348h1v1h-1zM900 348h1v1h-1zM901 348h1v1h-1zM902 347h1v1h-1zM903 347h1v1h-1zM904 347h1v1h-1zM905 346h1v1h-1zM906 346h1v1h-1zM907 345h1v1h-1zM908 345h1v1h-1zM909 344h1v1h-1zM910 344h1v1h-1zM911 343h1v1h-1zM912 343h1v1h-1zM913 342h1v1h-1zM914 342h1v1h-1zM915 341h1v1h-1zM916 341h1v1h-1zM917 340h1v1h-1zM918 340h1v1h-1zM919 339h1v1h-1zM920 339h1v1h-1zM921 339h1v1h-1zM922 338h1v1h-1zM923 338h1v1h-1z" fill="#ffff00" shape-rendering="crispEdges"/>
<rect x="4" y="179" width="1163" height="2" fill="#ff0000" shape-rendering="crispEdges"/><rect x="4" y="249" width="1163" height="2" fill="#ff0000" shape-rendering="crispEdges"/><rect x="4" y="330" width="1163" height="2" fill="#00ff00" shape-rendering="crispEdges"/><rect x="4" y="405" width="1163" height="2" fill="#0000ff" shape-rendering="crispEdges"/><rect x="4" y="476" width="1163" height="2" fill="#0000ff" shape-rendering="crispEdges"/><rect x="4" y="480" width="1163" height="2" fill="#ff0000" shape-rendering="crispEdges"/>
<g clip-path="url(#cm)" shape-rendering="crispEdges">
<path d="M12 141h1v29h-1zM16 153h1v27h-1zM48 69h1v106h-1zM52 165h1v23h-1zM64 125h1v33h-1zM72 137h1v91h-1zM80 181h1v40h-1zM96 143h1v37h-1zM104 155h1v33h-1zM112 163h1v26h-1zM120 141h1v41h-1zM132 163h1v49h-1zM136 199h1v47h-1zM140 224h1v32h-1zM148 221h1v10h-1zM156 207h1v33h-1zM164 228h1v42h-1zM172 236h1v4h-1zM184 201h1v31h-1zM192 209h1v35h-1zM196 222h1v5h-1zM200 221h1v20h-1zM216 162h1v18h-1zM220 173h1v4h-1zM228 135h1v42h-1zM236 160h1v26h-1zM252 140h1v21h-1zM256 154h1v25h-1zM260 134h1v33h-1zM264 150h1v39h-1zM268 182h1v8h-1zM276 159h1v44h-1zM292 114h1v12h-1zM300 107h1v27h-1zM304 120h1v56h-1zM308 168h1v29h-1zM320 151h1v26h-1zM328 140h1v36h-1zM336 151h1v27h-1zM356 163h1v17h-1zM360 168h1v34h-1zM376 156h1v28h-1zM380 164h1v51h-1zM396 159h1v17h-1zM400 161h1v18h-1zM408 154h1v42h-1zM420 182h1v21h-1zM428 182h1v79h-1zM432 256h1v39h-1zM444 263h1v25h-1zM452 241h1v14h-1zM460 240h1v7h-1zM464 237h1v23h-1zM468 250h1v32h-1zM472 272h1v17h-1zM476 281h1v22h-1zM492 238h1v54h-1zM496 269h1v34h-1zM500 281h1v44h-1zM516 283h1v37h-1zM520 291h1v27h-1zM524 291h1v26h-1zM528 312h1v21h-1zM532 324h1v9h-1zM536 334h1v33h-1zM540 352h1v28h-1zM552 337h1v16h-1zM564 337h1v25h-1zM568 344h1v25h-1zM576 329h1v30h-1zM580 355h1v10h-1zM592 319h1v28h-1zM600 328h1v30h-1zM604 351h1v5h-1zM620 337h1v26h-1zM628 341h1v6h-1zM632 345h1v26h-1zM636 360h1v42h-1zM640 393h1v20h-1zM644 396h1v57h-1zM648 440h1v32h-1zM668 388h1v20h-1zM680 370h1v17h-1zM704 307h1v13h-1zM708 300h1v45h-1zM712 330h1v27h-1zM720 327h1v25h-1zM724 345h1v6h-1zM732 344h1v25h-1zM736 361h1v18h-1zM740 357h1v35h-1zM744 369h1v27h-1zM748 388h1v8h-1zM752 394h1v24h-1zM756 387h1v30h-1zM768 371h1v39h-1zM772 395h1v7h-1zM780 374h1v39h-1zM784 396h1v40h-1zM796 390h1v6h-1zM808 379h1v36h-1zM816 361h1v25h-1zM828 339h1v26h-1zM840 313h1v17h-1zM848 318h1v25h-1zM860 263h1v33h-1zM864 279h1v28h-1zM888 258h1v27h-1zM900 268h1v52h-1zM908 298h1v43h-1zM916 326h1v10h-1zM924 317h1v9h-1zM11 151h3v5h-3zM15 155h3v20h-3zM47 77h3v93h-3zM51 169h3v18h-3zM63 137h3v8h-3zM71 144h3v65h-3zM79 192h3v14h-3zM95 159h3v8h-3zM103 165h3v13h-3zM111 168h3v19h-3zM119 145h3v25h-3zM131 167h3v33h-3zM135 199h3v29h-3zM139 227h3v25h-3zM147 224h3v4h-3zM155 217h3v18h-3zM163 232h3v5h-3zM171 237h3v1h-3zM183 208h3v18h-3zM191 219h3v5h-3zM195 224h3v2h-3zM199 227h3v2h-3zM215 169h3v6h-3zM219 174h3v2h-3zM227 163h3v9h-3zM235 164h3v16h-3zM251 142h3v14h-3zM255 155h3v4h-3zM259 158h3v6h-3zM263 163h3v21h-3zM267 182h3v8h-3zM275 163h3v34h-3zM291 114h3v8h-3zM299 108h3v16h-3zM303 123h3v52h-3zM307 174h3v7h-3zM319 153h3v7h-3zM327 152h3v14h-3zM335 153h3v24h-3zM355 170h3v4h-3zM359 173h3v16h-3zM375 160h3v7h-3zM379 166h3v48h-3zM395 160h3v12h-3zM399 171h3v6h-3zM407 166h3v27h-3zM419 182h3v21h-3zM427 185h3v75h-3zM431 259h3v27h-3zM443 271h3v2h-3zM451 243h3v8h-3zM459 240h3v5h-3zM463 244h3v7h-3zM467 250h3v28h-3zM471 277h3v11h-3zM475 287h3v12h-3zM491 270h3v17h-3zM495 286h3v7h-3zM499 292h3v23h-3zM515 290h3v9h-3zM519 298h3v3h-3zM523 300h3v17h-3zM527 315h3v14h-3zM531 327h3v5h-3zM535 336h3v23h-3zM539 359h3v9h-3zM551 349h3v1h-3zM563 339h3v9h-3zM567 346h3v12h-3zM575 331h3v25h-3zM579 355h3v9h-3zM591 339h3v4h-3zM599 328h3v26h-3zM603 353h3v3h-3zM619 345h3v14h-3zM627 343h3v2h-3zM631 346h3v16h-3zM635 361h3v41h-3zM639 401h3v10h-3zM643 410h3v32h-3zM647 441h3v18h-3zM667 395h3v9h-3zM679 374h3v9h-3zM703 308h3v8h-3zM707 315h3v21h-3zM711 335h3v13h-3zM719 341h3v8h-3zM723 348h3v2h-3zM731 346h3v19h-3zM735 363h3v6h-3zM739 368h3v18h-3zM743 385h3v7h-3zM747 391h3v2h-3zM751 396h3v9h-3zM755 404h3v4h-3zM767 381h3v19h-3zM771 399h3v2h-3zM779 387h3v23h-3zM783 409h3v23h-3zM795 393h3v3h-3zM807 381h3v20h-3zM815 369h3v7h-3zM827 347h3v3h-3zM839 323h3v3h-3zM847 321h3v4h-3zM859 279h3v11h-3zM863 289h3v14h-3zM887 263h3v18h-3zM899 269h3v50h-3zM907 318h3v14h-3zM915 329h3v7h-3zM923 322h3v4h-3z" fill="#32cd32"/>
<path d="M4 160h1v10h-1zM8 149h1v16h-1zM20 148h1v34h-1zM24 111h1v62h-1zM28 106h1v11h-1zM32 90h1v28h-1zM36 88h1v18h-1zM40 88h1v6h-1zM44 73h1v20h-1zM56 149h1v37h-1zM60 136h1v38h-1zM68 136h1v30h-1zM76 194h1v20h-1zM84 181h1v47h-1zM88 169h1v37h-1zM92 150h1v39h-1zM100 155h1v18h-1zM108 162h1v24h-1zM116 120h1v72h-1zM124 163h1v9h-1zM128 164h1v25h-1zM144 219h1v34h-1zM152 211h1v20h-1zM160 220h1v25h-1zM168 228h1v9h-1zM176 209h1v30h-1zM180 208h1v28h-1zM188 214h1v24h-1zM204 222h1v23h-1zM208 175h1v49h-1zM212 161h1v27h-1zM224 150h1v38h-1zM232 161h1v30h-1zM240 169h1v27h-1zM244 163h1v12h-1zM248 136h1v35h-1zM272 159h1v29h-1zM280 164h1v34h-1zM284 155h1v36h-1zM288 114h1v48h-1zM296 100h1v26h-1zM312 152h1v36h-1zM316 149h1v7h-1zM324 136h1v27h-1zM332 152h1v34h-1zM340 174h1v8h-1zM344 164h1v24h-1zM348 154h1v20h-1zM352 145h1v31h-1zM364 183h1v5h-1zM368 171h1v20h-1zM372 157h1v20h-1zM384 170h1v47h-1zM388 169h1v4h-1zM392 159h1v19h-1zM404 160h1v23h-1zM412 189h1v8h-1zM416 178h1v16h-1zM424 183h1v20h-1zM436 279h1v10h-1zM440 267h1v29h-1zM448 238h1v35h-1zM456 230h1v20h-1zM480 284h1v28h-1zM484 269h1v20h-1zM488 268h1v13h-1zM504 290h1v38h-1zM508 289h1v7h-1zM512 286h1v24h-1zM544 351h1v34h-1zM548 333h1v27h-1zM556 345h1v5h-1zM560 336h1v29h-1zM572 325h1v47h-1zM584 340h1v26h-1zM588 328h1v26h-1zM596 324h1v20h-1zM608 348h1v19h-1zM612 353h1v19h-1zM616 338h1v31h-1zM624 341h1v24h-1zM652 453h1v7h-1zM656 422h1v35h-1zM660 393h1v34h-1zM664 395h1v15h-1zM672 375h1v42h-1zM676 371h1v6h-1zM684 359h1v27h-1zM688 344h1v32h-1zM692 327h1v27h-1zM696 295h1v40h-1zM700 301h1v13h-1zM716 334h1v24h-1zM728 344h1v19h-1zM760 394h1v22h-1zM764 373h1v43h-1zM776 383h1v21h-1zM788 399h1v42h-1zM792 391h1v40h-1zM800 377h1v26h-1zM804 380h1v24h-1zM812 367h1v38h-1zM820 372h1v8h-1zM824 345h1v39h-1zM832 343h1v26h-1zM836 319h1v28h-1zM844 321h1v6h-1zM852 292h1v37h-1zM856 277h1v25h-1zM868 298h1v8h-1zM872 282h1v21h-1zM876 273h1v20h-1zM880 268h1v24h-1zM884 259h1v36h-1zM892 272h1v12h-1zM896 268h1v24h-1zM904 308h1v18h-1zM912 327h1v25h-1zM920 319h1v21h-1zM3 160h3v10h-3zM7 151h3v13h-3zM19 171h3v4h-3zM23 113h3v59h-3zM27 112h3v2h-3zM31 92h3v18h-3zM35 91h3v2h-3zM39 91h3v1h-3zM43 77h3v15h-3zM55 151h3v31h-3zM59 137h3v15h-3zM67 143h3v2h-3zM75 195h3v13h-3zM83 191h3v16h-3zM87 184h3v8h-3zM91 158h3v27h-3zM99 163h3v5h-3zM107 168h3v10h-3zM115 146h3v41h-3zM123 167h3v3h-3zM127 167h3v13h-3zM143 224h3v28h-3zM151 217h3v3h-3zM159 232h3v3h-3zM167 230h3v7h-3zM175 211h3v22h-3zM179 209h3v3h-3zM187 219h3v7h-3zM203 224h3v5h-3zM207 176h3v48h-3zM211 169h3v7h-3zM223 163h3v17h-3zM231 164h3v8h-3zM239 172h3v7h-3zM243 163h3v10h-3zM247 142h3v27h-3zM271 163h3v19h-3zM279 167h3v30h-3zM283 159h3v9h-3zM287 114h3v46h-3zM295 108h3v11h-3zM311 154h3v27h-3zM315 149h3v6h-3zM323 152h3v8h-3zM331 153h3v13h-3zM339 175h3v2h-3zM343 172h3v7h-3zM347 172h3v1h-3zM351 170h3v2h-3zM363 186h3v2h-3zM367 171h3v15h-3zM371 160h3v12h-3zM383 170h3v44h-3zM387 169h3v3h-3zM391 160h3v13h-3zM403 166h3v11h-3zM411 189h3v4h-3zM415 182h3v5h-3zM423 185h3v18h-3zM435 285h3v1h-3zM439 272h3v13h-3zM447 243h3v30h-3zM455 240h3v10h-3zM479 286h3v13h-3zM483 271h3v16h-3zM487 269h3v7h-3zM503 295h3v21h-3zM507 289h3v7h-3zM511 289h3v2h-3zM543 353h3v15h-3zM547 349h3v5h-3zM555 349h3v1h-3zM559 338h3v10h-3zM571 332h3v25h-3zM583 349h3v10h-3zM587 339h3v12h-3zM595 328h3v15h-3zM607 360h3v1h-3zM611 358h3v3h-3zM615 344h3v15h-3zM623 343h3v16h-3zM651 456h3v3h-3zM655 423h3v33h-3zM659 401h3v23h-3zM663 396h3v6h-3zM671 375h3v29h-3zM675 373h3v3h-3zM683 376h3v7h-3zM687 347h3v29h-3zM691 332h3v16h-3zM695 312h3v21h-3zM699 304h3v9h-3zM715 341h3v7h-3zM727 346h3v2h-3zM759 397h3v11h-3zM763 381h3v17h-3zM775 387h3v11h-3zM787 413h3v19h-3zM791 393h3v21h-3zM799 387h3v4h-3zM803 381h3v7h-3zM811 369h3v32h-3zM819 373h3v3h-3zM823 347h3v32h-3zM831 346h3v4h-3zM835 323h3v24h-3zM843 322h3v4h-3zM851 294h3v31h-3zM855 279h3v16h-3zM867 301h3v2h-3zM871 287h3v13h-3zM875 286h3v2h-3zM879 278h3v10h-3zM883 263h3v16h-3zM891 272h3v9h-3zM895 268h3v10h-3zM903 318h3v1h-3zM911 329h3v3h-3zM919 322h3v13h-3z" fill="#ff0000"/>
<path d="M4 161h1v8h-1zM8 152h1v11h-1zM20 172h1v2h-1zM24 114h1v57h-1zM32 93h1v16h-1zM44 78h1v13h-1zM56 152h1v29h-1zM60 138h1v13h-1zM76 196h1v11h-1zM84 192h1v14h-1zM88 185h1v6h-1zM92 159h1v25h-1zM100 164h1v3h-1zM108 169h1v8h-1zM116 147h1v39h-1zM124 168h1v1h-1zM128 168h1v11h-1zM144 225h1v26h-1zM152 218h1v1h-1zM160 233h1v1h-1zM168 231h1v5h-1zM176 212h1v20h-1zM180 210h1v1h-1zM188 220h1v5h-1zM204 225h1v3h-1zM208 177h1v46h-1zM212 170h1v5h-1zM224 164h1v15h-1zM232 165h1v6h-1zM240 173h1v5h-1zM244 164h1v8h-1zM248 143h1v25h-1zM272 164h1v17h-1zM280 168h1v28h-1zM284 160h1v7h-1zM288 115h1v44h-1zM296 109h1v9h-1zM312 155h1v25h-1zM316 150h1v4h-1zM324 153h1v6h-1zM332 154h1v11h-1zM344 173h1v5h-1zM368 172h1v13h-1zM372 161h1v10h-1zM384 171h1v42h-1zM388 170h1v1h-1zM392 161h1v11h-1zM404 167h1v9h-1zM412 190h1v2h-1zM416 183h1v3h-1zM424 186h1v16h-1zM440 273h1v11h-1zM448 244h1v28h-1zM456 241h1v8h-1zM480 287h1v11h-1zM484 272h1v14h-1zM488 270h1v5h-1zM504 296h1v19h-1zM508 290h1v5h-1zM544 354h1v13h-1zM548 350h1v3h-1zM560 339h1v8h-1zM572 333h1v23h-1zM584 350h1v8h-1zM588 340h1v10h-1zM596 329h1v13h-1zM612 359h1v1h-1zM616 345h1v13h-1zM624 344h1v14h-1zM652 457h1v1h-1zM656 424h1v31h-1zM660 402h1v21h-1zM664 397h1v4h-1zM672 376h1v27h-1zM676 374h1v1h-1zM684 377h1v5h-1zM688 348h1v27h-1zM692 333h1v14h-1zM696 313h1v19h-1zM700 305h1v7h-1zM716 342h1v5h-1zM760 398h1v9h-1zM764 382h1v15h-1zM776 388h1v9h-1zM788 414h1v17h-1zM792 394h1v19h-1zM800 388h1v2h-1zM804 382h1v5h-1zM812 370h1v30h-1zM820 374h1v1h-1zM824 348h1v30h-1zM832 347h1v2h-1zM836 324h1v22h-1zM844 323h1v2h-1zM852 295h1v29h-1zM856 280h1v14h-1zM872 288h1v11h-1zM880 279h1v8h-1zM884 264h1v14h-1zM892 273h1v7h-1zM896 269h1v8h-1zM912 330h1v1h-1zM920 323h1v11h-1z" fill="#ff4500"/>
</g>
<path clip-path="url(#c2)" shape-rendering="crispEdges" d="M3 515h3v12h-3zM7 512h3v15h-3zM11 511h3v16h-3zM15 512h3v15h-3zM19 513h3v14h-3zM23 508h3v19h-3zM27 504h3v23h-3zM31 499h3v28h-3zM35 495h3v32h-3zM39 493h3v34h-3zM43 490h3v37h-3zM47 498h3v29h-3zM51 505h3v22h-3zM55 508h3v19h-3zM59 509h3v18h-3zM63 511h3v16h-3zM67 512h3v15h-3zM71 520h3v7h-3zM75 525h3v2h-3zM79 527h3v3h-3zM83 527h3v5h-3zM87 527h3v6h-3zM91 527h3v5h-3zM95 527h3v4h-3zM99 527h3v3h-3zM103 527h3v4h-3zM107 527h3v3h-3zM111 527h3v5h-3zM115 527h3v2h-3zM119 527h3v2h-3zM123 527h3v2h-3zM127 527h3v1h-3zM131 527h3v4h-3zM135 527h3v9h-3zM139 527h3v16h-3zM143 527h3v18h-3zM147 527h3v19h-3zM151 527h3v20h-3zM155 527h3v21h-3zM159 527h3v22h-3zM163 527h3v23h-3zM167 527h3v22h-3zM171 527h3v23h-3zM175 527h3v20h-3zM179 527h3v18h-3zM183 527h3v17h-3zM187 527h3v16h-3zM191 527h3v15h-3zM195 527h3v14h-3zM199 527h3v14h-3zM203 527h3v13h-3zM207 527h3v8h-3zM211 527h3v3h-3zM215 526h3v1h-3zM219 523h3v4h-3zM223 520h3v7h-3zM227 518h3v9h-3zM231 517h3v10h-3zM235 517h3v10h-3zM239 516h3v11h-3zM243 515h3v12h-3zM247 512h3v15h-3zM251 511h3v16h-3zM255 511h3v16h-3zM259 512h3v15h-3zM263 514h3v13h-3zM267 517h3v10h-3zM271 517h3v10h-3zM275 520h3v7h-3zM279 520h3v7h-3zM283 519h3v8h-3zM287 514h3v13h-3zM291 510h3v17h-3zM295 507h3v20h-3zM299 506h3v21h-3zM303 510h3v17h-3zM307 514h3v13h-3zM311 515h3v12h-3zM315 516h3v11h-3zM319 517h3v10h-3zM323 518h3v9h-3zM327 519h3v8h-3zM331 520h3v7h-3zM335 522h3v5h-3zM339 524h3v3h-3zM343 526h3v1h-3zM347 527h3v0h-3zM351 527h3v0h-3zM355 527h3v1h-3zM359 527h3v3h-3zM363 527h3v5h-3zM367 527h3v4h-3zM371 527h3v3h-3zM375 527h3v2h-3zM379 527h3v6h-3zM383 527h3v5h-3zM387 527h3v4h-3zM391 527h3v2h-3zM395 527h3v2h-3zM399 527h3v2h-3zM403 527h3v2h-3zM407 527h3v3h-3zM411 527h3v5h-3zM415 527h3v5h-3zM419 527h3v7h-3zM423 527h3v7h-3zM427 527h3v14h-3zM431 527h3v22h-3zM435 527h3v28h-3zM439 527h3v31h-3zM443 527h3v33h-3zM447 527h3v32h-3zM451 527h3v31h-3zM455 527h3v29h-3zM459 527h3v27h-3zM463 527h3v26h-3zM467 527h3v28h-3zM471 527h3v30h-3zM475 527h3v32h-3zM479 527h3v32h-3zM483 527h3v31h-3zM487 527h3v29h-3zM491 527h3v29h-3zM495 527h3v29h-3zM499 527h3v31h-3zM503 527h3v30h-3zM507 527h3v29h-3zM511 527h3v27h-3zM515 527h3v27h-3zM519 527h3v26h-3zM523 527h3v27h-3zM527 527h3v29h-3zM531 527h3v30h-3zM535 527h3v33h-3zM539 527h3v36h-3zM543 527h3v37h-3zM547 527h3v36h-3zM551 527h3v36h-3zM555 527h3v35h-3zM559 527h3v33h-3zM563 527h3v31h-3zM567 527h3v31h-3zM571 527h3v28h-3zM575 527h3v28h-3zM579 527h3v28h-3zM583 527h3v26h-3zM587 527h3v24h-3zM591 527h3v22h-3zM595 527h3v18h-3zM599 527h3v18h-3zM603 527h3v18h-3zM607 527h3v18h-3zM611 527h3v18h-3zM615 527h3v16h-3zM619 527h3v16h-3zM623 527h3v14h-3zM627 527h3v12h-3zM631 527h3v13h-3zM635 527h3v17h-3zM639 527h3v21h-3zM643 527h3v27h-3zM647 527h3v33h-3zM651 527h3v37h-3zM655 527h3v37h-3zM659 527h3v34h-3zM663 527h3v30h-3zM667 527h3v28h-3zM671 527h3v23h-3zM675 527h3v19h-3zM679 527h3v17h-3zM683 527h3v14h-3zM687 527h3v8h-3zM691 527h3v3h-3zM695 523h3v4h-3zM699 517h3v10h-3zM703 514h3v13h-3zM707 514h3v13h-3zM711 514h3v13h-3zM715 515h3v12h-3zM719 516h3v11h-3zM723 517h3v10h-3zM727 518h3v9h-3zM731 520h3v7h-3zM735 522h3v5h-3zM739 526h3v1h-3zM743 527h3v2h-3zM747 527h3v5h-3zM751 527h3v8h-3zM755 527h3v11h-3zM759 527h3v12h-3zM763 527h3v11h-3zM767 527h3v12h-3zM771 527h3v13h-3zM775 527h3v12h-3zM779 527h3v13h-3zM783 527h3v17h-3zM787 527h3v17h-3zM791 527h3v15h-3zM795 527h3v14h-3zM799 527h3v12h-3zM803 527h3v9h-3zM807 527h3v9h-3zM811 527h3v6h-3zM815 527h3v4h-3zM819 527h3v2h-3zM823 525h3v2h-3zM827 522h3v5h-3zM831 520h3v7h-3zM835 516h3v11h-3zM839 513h3v14h-3zM843 510h3v17h-3zM847 509h3v18h-3zM851 505h3v22h-3zM855 500h3v27h-3zM859 498h3v29h-3zM863 498h3v29h-3zM867 498h3v29h-3zM871 497h3v30h-3zM875 497h3v30h-3zM879 496h3v31h-3zM883 494h3v33h-3zM887 495h3v32h-3zM891 495h3v32h-3zM895 495h3v32h-3zM899 501h3v26h-3zM903 505h3v22h-3zM907 510h3v17h-3zM911 514h3v13h-3zM915 518h3v9h-3zM919 520h3v7h-3zM923 522h3v5h-3z" fill="#c0c0c0"/>
<path clip-path="url(#c2)" d="M4 525h1v1h-1zM5 524h1v1h-1zM6 524h1v1h-1zM7 523h1v1h-1zM8 523h1v1h-1zM9 522h1v1h-1zM10 522h1v1h-1zM11 521h1v1h-1zM12 521h1v1h-1zM13 520h1v1h-1zM14 519h1v1h-1zM15 519h1v1h-1zM16 518h1v1h-1zM17 517h1v1h-1zM18 517h1v1h-1zM19 516h1v1h-1zM20 516h1v1h-1zM21 515h1v1h-1zM22 515h1v1h-1zM23 514h1v1h-1zM24 514h1v1h-1zM25 513h1v1h-1zM26 513h1v1h-1zM27 512h1v1h-1zM28 512h1v1h-1zM29 511h1v1h-1zM30 511h1v1h-1zM31 510h1v1h-1zM32 510h1v1h-1zM33 509h1v1h-1zM34 509h1v1h-1zM35 508h1v1h-1zM36 508h1v1h-1zM37 507h1v1h-1zM38 506h1v1h-1zM39 506h1v1h-1zM40 505h1v1h-1zM41 504h1v1h-1zM42 504h1v1h-1zM43 503h1v1h-1zM44 503h1v1h-1zM45 502h1v1h-1zM46 502h1v1h-1zM47 501h1v1h-1zM48 501h1v1h-1zM49 501h1v1h-1zM50 501h1v1h-1zM51 501h1v1h-1zM52 501h1v1h-1zM53 501h1v1h-1zM54 500h1v1h-1zM55 500h1v1h-1zM56 500h1v1h-1zM57 500h1v1h-1zM58 500h1v1h-1zM59 500h1v1h-1zM60 500h1v1h-1zM61 500h1v1h-1zM62 501h1v1h-1zM63 501h1v1h-1zM64 501h1v1h-1zM65 501h1v1h-1zM66 502h1v1h-1zM67 502h1v1h-1zM68 502h1v1h-1zM69 503h1v1h-1zM70 504h1v1h-1zM71 504h1v1h-1zM72 505h1v1h-1zM73 506h1v1h-1zM74 507h1v1h-1zM75 508h1v1h-1zM76 509h1v1h-1zM77 510h1v1h-1zM78 511h1v1h-1zM79 512h1v1h-1zM80 513h1v1h-1zM81 514h1v1h-1zM82 515h1v1h-1zM83 516h1v1h-1zM84 517h1v1h-1zM85 518h1v1h-1zM86 519h1v1h-1zM87 519h1v1h-1zM88 520h1v1h-1zM89 521h1v1h-1zM90 522h1v1h-1zM91 522h1v1h-1zM92 523h1v1h-1zM93 524h1v1h-1zM94 524h1v1h-1zM95 525h1v1h-1zM96 525h1v1h-1zM97 526h1v1h-1zM98 526h1v1h-1zM99 527h1v1h-1zM100 527h1v1h-1zM101 528h1v1h-1zM102 528h1v1h-1zM103 529h1v1h-1zM104 529h1v1h-1zM105 529h1v1h-1zM106 530h1v1h-1zM107 530h1v1h-1zM108 530h1v1h-1zM109 530h1v1h-1zM110 531h1v1h-1zM111 531h1v1h-1zM112 531h1v1h-1zM113 531h1v1h-1zM114 531h1v1h-1zM115 531h1v1h-1zM116 531h1v1h-1zM117 531h1v1h-1zM118 531h1v1h-1zM119 531h1v1h-1zM120 531h1v1h-1zM121 531h1v1h-1zM122 530h1v1h-1zM123 530h1v1h-1zM124 530h1v1h-1zM125 530h1v1h-1zM126 530h1v1h-1zM127 530h1v1h-1zM128 530h1v1h-1zM129 530h1v1h-1zM130 530h1v1h-1zM131 530h1v1h-1zM132 530h1v1h-1zM133 530h1v1h-1zM134 531h1v1h-1zM135 531h1v1h-1zM136 531h1v1h-1zM137 531h1v1h-1zM138 532h1v1h-1zM139 532h1v1h-1zM140 532h1v1h-1zM141 532h1v1h-1zM142 533h1v1h-1zM143 533h1v1h-1zM144 533h1v1h-1zM145 534h1v1h-1zM146 534h1v1h-1zM147 535h1v1h-1zM148 535h1v1h-1zM149 536h1v1h-1zM150 536h1v1h-1zM151 537h1v1h-1zM152 537h1v1h-1zM153 538h1v1h-1zM154 538h1v1h-1zM155 539h1v1h-1zM156 539h1v1h-1zM157 540h1v1h-1zM158 541h1v1h-1zM159 541h1v1h-1zM160 542h1v1h-1zM161 543h1v1h-1zM162 543h1v1h-1zM163 544h1v1h-1zM164 544h1v1h-1zM165 545h1v1h-1zM166 545h1v1h-1zM167 546h1v1h-1zM168 546h1v1h-1zM169 546h1v1h-1zM170 547h1v1h-1zM171 547h1v1h-1zM172 547h1v1h-1zM173 547h1v1h-1zM174 548h1v1h-1zM175 548h1v1h-1zM176 548h1v1h-1zM177 548h1v1h-1zM178 548h1v1h-1zM179 548h1v1h-1zM180 548h1v1h-1zM181 548h1v1h-1zM182 548h1v1h-1zM183 548h1v1h-1zM184 548h1v1h-1zM185 548h1v1h-1zM186 547h1v1h-1zM187 547h1v1h-1zM188 547h1v1h-1zM189 547h1v1h-1zM190 546h1v1h-1zM191 546h1v1h-1zM192 546h1v1h-1zM193 546h1v1h-1zM194 546h1v1h-1zM195 546h1v1h-1zM196 546h1v1h-1zM197 546h1v1h-1zM198 545h1v1h-1zM199 545h1v1h-1zM200 545h1v1h-1zM201 545h1v1h-1zM202 544h1v1h-1zM203 544h1v1h-1zM204 544h1v1h-1zM205 543h1v1h-1zM206 543h1v1h-1zM207 542h1v1h-1zM208 542h1v1h-1zM209 541h1v1h-1zM210 541h1v1h-1zM211 540h1v1h-1zM212 540h1v1h-1zM213 539h1v1h-1zM214 539h1v1h-1zM215 538h1v1h-1zM216 538h1v1h-1zM217 537h1v1h-1zM218 537h1v1h-1zM219 536h1v1h-1zM220 536h1v1h-1zM221 535h1v1h-1zM222 534h1v1h-1zM223 534h1v1h-1zM224 533h1v1h-1zM225 532h1v1h-1zM226 532h1v1h-1zM227 531h1v1h-1zM228 531h1v1h-1zM229 530h1v1h-1zM230 529h1v1h-1zM231 529h1v1h-1zM232 528h1v1h-1zM233 527h1v1h-1zM234 526h1v1h-1zM235 526h1v1h-1zM236 525h1v1h-1zM237 524h1v1h-1zM238 523h1v1h-1zM239 523h1v1h-1zM240 522h1v1h-1zM241 521h1v1h-1zM242 521h1v1h-1zM243 520h1v1h-1zM244 520h1v1h-1zM245 519h1v1h-1zM246 519h1v1h-1zM247 518h1v1h-1zM248 518h1v1h-1zM249 518h1v1h-1zM250 517h1v1h-1zM251 517h1v1h-1zM252 517h1v1h-1zM253 516h1v1h-1zM254 516h1v1h-1zM255 515h1v1h-1zM256 515h1v1h-1zM257 515h1v1h-1zM258 514h1v1h-1zM259 514h1v1h-1zM260 514h1v1h-1zM261 514h1v1h-1zM262 514h1v1h-1zM263 514h1v1h-1zM264 514h1v1h-1zM265 514h1v1h-1zM266 514h1v1h-1zM267 514h1v1h-1zM268 514h1v1h-1zM269 514h1v1h-1zM270 514h1v1h-1zM271 514h1v1h-1zM272 514h1v1h-1zM273 514h1v1h-1zM274 514h1v1h-1zM275 514h1v1h-1zM276 514h1v1h-1zM277 514h1v1h-1zM278 515h1v1h-1zM279 515h1v1h-1zM280 515h1v1h-1zM281 515h1v1h-1zM282 516h1v1h-1zM283 516h1v1h-1zM284 516h1v1h-1zM285 516h1v1h-1zM286 516h1v1h-1zM287 516h1v1h-1zM288 516h1v1h-1zM289 516h1v1h-1zM290 516h1v1h-1zM291 516h1v1h-1zM292 516h1v1h-1zM293 516h1v1h-1zM294 515h1v1h-1zM295 515h1v1h-1zM296 515h1v1h-1zM297 515h1v1h-1zM298 514h1v1h-1zM299 514h1v1h-1zM300 514h1v1h-1zM301 514h1v1h-1zM302 514h1v1h-1zM303 514h1v1h-1zM304 514h1v1h-1zM305 514h1v1h-1zM306 513h1v1h-1zM307 513h1v1h-1zM308 513h1v1h-1zM309 513h1v1h-1zM310 513h1v1h-1zM311 513h1v1h-1zM312 513h1v1h-1zM313 513h1v1h-1zM314 512h1v1h-1zM315 512h1v1h-1zM316 512h1v1h-1zM317 512h1v1h-1zM318 512h1v1h-1zM319 512h1v1h-1zM320 512h1v1h-1zM321 512h1v1h-1zM322 513h1v1h-1zM323 513h1v1h-1zM324 513h1v1h-1zM325 513h1v1h-1zM326 514h1v1h-1zM327 514h1v1h-1zM328 514h1v1h-1zM329 514h1v1h-1zM330 515h1v1h-1zM331 515h1v1h-1zM332 515h1v1h-1zM333 516h1v1h-1zM334 516h1v1h-1zM335 517h1v1h-1zM336 517h1v1h-1zM337 518h1v1h-1zM338 518h1v1h-1zM339 519h1v1h-1zM340 519h1v1h-1zM341 519h1v1h-1zM342 520h1v1h-1zM343 520h1v1h-1zM344 520h1v1h-1zM345 520h1v1h-1zM346 521h1v1h-1zM347 521h1v1h-1zM348 521h1v1h-1zM349 521h1v1h-1zM350 522h1v1h-1zM351 522h1v1h-1zM352 522h1v1h-1zM353 523h1v1h-1zM354 523h1v1h-1zM355 524h1v1h-1zM356 524h1v1h-1zM357 524h1v1h-1zM358 525h1v1h-1zM359 525h1v1h-1zM360 525h1v1h-1zM361 525h1v1h-1zM362 526h1v1h-1zM363 526h1v1h-1zM364 526h1v1h-1zM365 526h1v1h-1zM366 527h1v1h-1zM367 527h1v1h-1zM368 527h1v1h-1zM369 527h1v1h-1zM370 528h1v1h-1zM371 528h1v1h-1zM372 528h1v1h-1zM373 528h1v1h-1zM374 529h1v1h-1zM375 529h1v1h-1zM376 529h1v1h-1zM377 529h1v1h-1zM378 530h1v1h-1zM379 530h1v1h-1zM380 530h1v1h-1zM381 530h1v1h-1zM382 530h1v1h-1zM383 530h1v1h-1zM384 530h1v1h-1zM385 530h1v1h-1zM386 531h1v1h-1zM387 531h1v1h-1zM388 531h1v1h-1zM389 531h1v1h-1zM390 531h1v1h-1zM391 531h1v1h-1zM392 531h1v1h-1zM393 531h1v1h-1zM394 531h1v1h-1zM395 531h1v1h-1zM396 531h1v1h-1zM397 531h1v1h-1zM398 530h1v1h-1zM399 530h1v1h-1zM400 530h1v1h-1zM401 530h1v1h-1zM402 530h1v1h-1zM403 530h1v1h-1zM404 530h1v1h-1zM405 530h1v1h-1zM406 530h1v1h-1zM407 530h1v1h-1zM408 530h1v1h-1zM409 530h1v1h-1zM410 531h1v1h-1zM411 531h1v1h-1zM412 531h1v1h-1zM413 531h1v1h-1zM414 530h1v1h-1zM415 530h1v1h-1zM416 530h1v1h-1zM417 530h1v1h-1zM418 531h1v1h-1zM419 531h1v1h-1zM420 531h1v1h-1zM421 531h1v1h-1zM422 531h1v1h-1zM423 531h1v1h-1zM424 531h1v1h-1zM425 531h1v1h-1zM426 532h1v1h-1zM427 532h1v1h-1zM428 532h1v1h-1zM429 533h1v1h-1zM430 533h1v1h-1zM431 534h1v1h-1zM432 534h1v1h-1zM433 535h1v1h-1zM434 536h1v1h-1zM435 536h1v1h-1zM436 537h1v1h-1zM437 538h1v1h-1zM438 539h1v1h-1zM439 540h1v1h-1zM440 541h1v1h-1zM441 542h1v1h-1zM442 543h1v1h-1zM443 543h1v1h-1zM444 544h1v1h-1zM445 545h1v1h-1zM446 546h1v1h-1zM447 546h1v1h-1zM448 547h1v1h-1zM449 548h1v1h-1zM450 549h1v1h-1zM451 549h1v1h-1zM452 550h1v1h-1zM453 551h1v1h-1zM454 551h1v1h-1zM455 552h1v1h-1zM456 552h1v1h-1zM457 553h1v1h-1zM458 553h1v1h-1zM459 554h1v1h-1zM460 554h1v1h-1zM461 555h1v1h-1zM462 555h1v1h-1zM463 556h1v1h-1zM464 556h1v1h-1zM465 556h1v1h-1zM466 556h1v1h-1zM467 556h1v1h-1zM468 556h1v1h-1zM469 556h1v1h-1zM470 557h1v1h-1zM471 557h1v1h-1zM472 557h1v1h-1zM473 557h1v1h-1zM474 557h1v1h-1zM475 557h1v1h-1zM476 557h1v1h-1zM477 557h1v1h-1zM478 557h1v1h-1zM479 557h1v1h-1zM480 557h1v1h-1zM481 557h1v1h-1zM482 556h1v1h-1zM483 556h1v1h-1zM484 556h1v1h-1zM485 556h1v1h-1zM486 556h1v1h-1zM487 556h1v1h-1zM488 556h1v1h-1zM489 556h1v1h-1zM490 556h1v1h-1zM491 556h1v1h-1zM492 556h1v1h-1zM493 556h1v1h-1zM494 556h1v1h-1zM495 556h1v1h-1zM496 556h1v1h-1zM497 556h1v1h-1zM498 557h1v1h-1zM499 557h1v1h-1zM500 557h1v1h-1zM501 557h1v1h-1zM502 557h1v1h-1zM503 557h1v1h-1zM504 557h1v1h-1zM505 557h1v1h-1zM506 557h1v1h-1zM507 557h1v1h-1zM508 557h1v1h-1zM509 557h1v1h-1zM510 557h1v1h-1zM511 557h1v1h-1zM512 557h1v1h-1zM513 557h1v1h-1zM514 556h1v1h-1zM515 556h1v1h-1zM516 556h1v1h-1zM517 556h1v1h-1zM518 556h1v1h-1zM519 556h1v1h-1zM520 556h1v1h-1zM521 556h1v1h-1zM522 555h1v1h-1zM523 555h1v1h-1zM524 555h1v1h-1zM525 555h1v1h-1zM526 555h1v1h-1zM527 555h1v1h-1zM528 555h1v1h-1zM529 555h1v1h-1zM530 555h1v1h-1zM531 555h1v1h-1zM532 555h1v1h-1zM533 555h1v1h-1zM534 556h1v1h-1zM535 556h1v1h-1zM536 556h1v1h-1zM537 556h1v1h-1zM538 556h1v1h-1zM539 556h1v1h-1zM540 556h1v1h-1zM541 556h1v1h-1zM542 557h1v1h-1zM543 557h1v1h-1zM544 557h1v1h-1zM545 557h1v1h-1zM546 558h1v1h-1zM547 558h1v1h-1zM548 558h1v1h-1zM549 558h1v1h-1zM550 559h1v1h-1zM551 559h1v1h-1zM552 559h1v1h-1zM553 559h1v1h-1zM554 560h1v1h-1zM555 560h1v1h-1zM556 560h1v1h-1zM557 560h1v1h-1zM558 561h1v1h-1zM559 561h1v1h-1zM560 561h1v1h-1zM561 561h1v1h-1zM562 561h1v1h-1zM563 561h1v1h-1zM564 561h1v1h-1zM565 561h1v1h-1zM566 561h1v1h-1zM567 561h1v1h-1zM568 561h1v1h-1zM569 561h1v1h-1zM570 561h1v1h-1zM571 561h1v1h-1zM572 561h1v1h-1zM573 561h1v1h-1zM574 560h1v1h-1zM575 560h1v1h-1zM576 560h1v1h-1zM577 560h1v1h-1zM578 559h1v1h-1zM579 559h1v1h-1zM580 559h1v1h-1zM581 559h1v1h-1zM582 558h1v1h-1zM583 558h1v1h-1zM584 558h1v1h-1zM585 557h1v1h-1zM586 557h1v1h-1zM587 556h1v1h-1zM588 556h1v1h-1zM589 556h1v1h-1zM590 555h1v1h-1zM591 555h1v1h-1zM592 555h1v1h-1zM593 554h1v1h-1zM594 554h1v1h-1zM595 553h1v1h-1zM596 553h1v1h-1zM597 553h1v1h-1zM598 552h1v1h-1zM599 552h1v1h-1zM600 552h1v1h-1zM601 551h1v1h-1zM602 551h1v1h-1zM603 550h1v1h-1zM604 550h1v1h-1zM605 550h1v1h-1zM606 549h1v1h-1zM607 549h1v1h-1zM608 549h1v1h-1zM609 549h1v1h-1zM610 548h1v1h-1zM611 548h1v1h-1zM612 548h1v1h-1zM613 548h1v1h-1zM614 547h1v1h-1zM615 547h1v1h-1zM616 547h1v1h-1zM617 547h1v1h-1zM618 546h1v1h-1zM619 546h1v1h-1zM620 546h1v1h-1zM621 546h1v1h-1zM622 545h1v1h-1zM623 545h1v1h-1zM624 545h1v1h-1zM625 545h1v1h-1zM626 544h1v1h-1zM627 544h1v1h-1zM628 544h1v1h-1zM629 544h1v1h-1zM630 543h1v1h-1zM631 543h1v1h-1zM632 543h1v1h-1zM633 543h1v1h-1zM634 543h1v1h-1zM635 543h1v1h-1zM636 543h1v1h-1zM637 543h1v1h-1zM638 543h1v1h-1zM639 543h1v1h-1zM640 543h1v1h-1zM641 543h1v1h-1zM642 544h1v1h-1zM643 544h1v1h-1zM644 544h1v1h-1zM645 545h1v1h-1zM646 545h1v1h-1zM647 546h1v1h-1zM648 546h1v1h-1zM649 547h1v1h-1zM650 547h1v1h-1zM651 548h1v1h-1zM652 548h1v1h-1zM653 549h1v1h-1zM654 549h1v1h-1zM655 550h1v1h-1zM656 550h1v1h-1zM657 551h1v1h-1zM658 552h1v1h-1zM659 552h1v1h-1zM660 553h1v1h-1zM661 554h1v1h-1zM662 554h1v1h-1zM663 555h1v1h-1zM664 555h1v1h-1zM665 555h1v1h-1zM666 556h1v1h-1zM667 556h1v1h-1zM668 556h1v1h-1zM669 556h1v1h-1zM670 557h1v1h-1zM671 557h1v1h-1zM672 557h1v1h-1zM673 557h1v1h-1zM674 557h1v1h-1zM675 557h1v1h-1zM676 557h1v1h-1zM677 557h1v1h-1zM678 556h1v1h-1zM679 556h1v1h-1zM680 556h1v1h-1zM681 555h1v1h-1zM682 555h1v1h-1zM683 554h1v1h-1zM684 554h1v1h-1zM685 553h1v1h-1zM686 552h1v1h-1zM687 551h1v1h-1zM688 550h1v1h-1zM689 549h1v1h-1zM690 548h1v1h-1zM691 548h1v1h-1zM692 547h1v1h-1zM693 546h1v1h-1zM694 544h1v2h-1zM695 543h1v1h-1zM696 542h1v1h-1zM697 541h1v1h-1zM698 540h1v1h-1zM699 539h1v1h-1zM700 538h1v1h-1zM701 537h1v1h-1zM702 535h1v2h-1zM703 534h1v1h-1zM704 533h1v1h-1zM705 532h1v1h-1zM706 531h1v1h-1zM707 530h1v1h-1zM708 529h1v1h-1zM709 528h1v1h-1zM710 527h1v1h-1zM711 527h1v1h-1zM712 526h1v1h-1zM713 525h1v1h-1zM714 524h1v1h-1zM715 524h1v1h-1zM716 523h1v1h-1zM717 522h1v1h-1zM718 521h1v1h-1zM719 521h1v1h-1zM720 520h1v1h-1zM721 519h1v1h-1zM722 519h1v1h-1zM723 518h1v1h-1zM724 518h1v1h-1zM725 517h1v1h-1zM726 517h1v1h-1zM727 516h1v1h-1zM728 516h1v1h-1zM729 516h1v1h-1zM730 516h1v1h-1zM731 516h1v1h-1zM732 516h1v1h-1zM733 516h1v1h-1zM734 517h1v1h-1zM735 517h1v1h-1zM736 517h1v1h-1zM737 517h1v1h-1zM738 518h1v1h-1zM739 518h1v1h-1zM740 518h1v1h-1zM741 519h1v1h-1zM742 519h1v1h-1zM743 520h1v1h-1zM744 520h1v1h-1zM745 521h1v1h-1zM746 521h1v1h-1zM747 522h1v1h-1zM748 522h1v1h-1zM749 523h1v1h-1zM750 523h1v1h-1zM751 524h1v1h-1zM752 524h1v1h-1zM753 525h1v1h-1zM754 525h1v1h-1zM755 526h1v1h-1zM756 526h1v1h-1zM757 527h1v1h-1zM758 528h1v1h-1zM759 528h1v1h-1zM760 529h1v1h-1zM761 530h1v1h-1zM762 530h1v1h-1zM763 531h1v1h-1zM764 531h1v1h-1zM765 532h1v1h-1zM766 532h1v1h-1zM767 533h1v1h-1zM768 533h1v1h-1zM769 534h1v1h-1zM770 534h1v1h-1zM771 535h1v1h-1zM772 535h1v1h-1zM773 536h1v1h-1zM774 536h1v1h-1zM775 537h1v1h-1zM776 537h1v1h-1zM777 537h1v1h-1zM778 538h1v1h-1zM779 538h1v1h-1zM780 538h1v1h-1zM781 538h1v1h-1zM782 539h1v1h-1zM783 539h1v1h-1zM784 539h1v1h-1zM785 539h1v1h-1zM786 540h1v1h-1zM787 540h1v1h-1zM788 540h1v1h-1zM789 540h1v1h-1zM790 541h1v1h-1zM791 541h1v1h-1zM792 541h1v1h-1zM793 541h1v1h-1zM794 541h1v1h-1zM795 541h1v1h-1zM796 541h1v1h-1zM797 541h1v1h-1zM798 541h1v1h-1zM799 541h1v1h-1zM800 541h1v1h-1zM801 541h1v1h-1zM802 541h1v1h-1zM803 541h1v1h-1zM804 541h1v1h-1zM805 541h1v1h-1zM806 540h1v1h-1zM807 540h1v1h-1zM808 540h1v1h-1zM809 540h1v1h-1zM810 539h1v1h-1zM811 539h1v1h-1zM812 539h1v1h-1zM813 539h1v1h-1zM814 538h1v1h-1zM815 538h1v1h-1zM816 538h1v1h-1zM817 538h1v1h-1zM818 537h1v1h-1zM819 537h1v1h-1zM820 537h1v1h-1zM821 536h1v1h-1zM822 536h1v1h-1zM823 535h1v1h-1zM824 535h1v1h-1zM825 534h1v1h-1zM826 534h1v1h-1zM827 533h1v1h-1zM828 533h1v1h-1zM829 532h1v1h-1zM830 531h1v1h-1zM831 531h1v1h-1zM832 530h1v1h-1zM833 529h1v1h-1zM834 529h1v1h-1zM835 528h1v1h-1zM836 528h1v1h-1zM837 527h1v1h-1zM838 526h1v1h-1zM839 526h1v1h-1zM840 525h1v1h-1zM841 524h1v1h-1zM842 523h1v1h-1zM843 523h1v1h-1zM844 522h1v1h-1zM845 521h1v1h-1zM846 520h1v1h-1zM847 520h1v1h-1zM848 519h1v1h-1zM849 518h1v1h-1zM850 517h1v1h-1zM851 517h1v1h-1zM852 516h1v1h-1zM853 515h1v1h-1zM854 514h1v1h-1zM855 514h1v1h-1zM856 513h1v1h-1zM857 512h1v1h-1zM858 511h1v1h-1zM859 511h1v1h-1zM860 510h1v1h-1zM861 509h1v1h-1zM862 509h1v1h-1zM863 508h1v1h-1zM864 508h1v1h-1zM865 507h1v1h-1zM866 506h1v1h-1zM867 506h1v1h-1zM868 505h1v1h-1zM869 504h1v1h-1zM870 504h1v1h-1zM871 503h1v1h-1zM872 503h1v1h-1zM873 502h1v1h-1zM874 502h1v1h-1zM875 501h1v1h-1zM876 501h1v1h-1zM877 501h1v1h-1zM878 500h1v1h-1zM879 500h1v1h-1zM880 500h1v1h-1zM881 499h1v1h-1zM882 499h1v1h-1zM883 498h1v1h-1zM884 498h1v1h-1zM885 498h1v1h-1zM886 497h1v1h-1zM887 497h1v1h-1zM888 497h1v1h-1zM889 497h1v1h-1zM890 497h1v1h-1zM891 497h1v1h-1zM892 497h1v1h-1zM893 497h1v1h-1zM894 496h1v1h-1zM895 496h1v1h-1zM896 496h1v1h-1zM897 496h1v1h-1zM898 497h1v1h-1zM899 497h1v1h-1zM900 497h1v1h-1zM901 497h1v1h-1zM902 497h1v1h-1zM903 497h1v1h-1zM904 497h1v1h-1zM905 498h1v1h-1zM906 498h1v1h-1zM907 499h1v1h-1zM908 499h1v1h-1zM909 500h1v1h-1zM910 500h1v1h-1zM911 501h1v1h-1zM912 501h1v1h-1zM913 502h1v1h-1zM914 502h1v1h-1zM915 503h1v1h-1zM916 503h1v1h-1zM917 504h1v1h-1zM918 505h1v1h-1zM919 505h1v1h-1zM920 506h1v1h-1zM921 507h1v1h-1zM922 508h1v1h-1zM923 508h1v1h-1z" fill="#ff0000" shape-rendering="crispEdges"/>
<path d="M5 597.5H1166M5 632.5H1166" stroke="#c0c0c0" stroke-width="1" stroke-dasharray="3 3" fill="none" shape-rendering="crispEdges"/>
<path clip-path="url(#c3)" d="M4 605h1v1h-1zM5 604h1v1h-1zM6 604h1v1h-1zM7 603h1v1h-1zM8 603h1v1h-1zM9 603h1v1h-1zM10 604h1v1h-1zM11 604h1v1h-1zM12 604h1v1h-1zM13 605h1v2h-1zM14 607h1v1h-1zM15 608h1v2h-1zM16 610h1v1h-1zM17 610h1v1h-1zM18 610h1v1h-1zM19 610h1v1h-1zM20 609h1v2h-1zM21 606h1v3h-1zM22 604h1v2h-1zM23 601h1v3h-1zM24 599h1v2h-1zM25 599h1v1h-1zM26 599h1v1h-1zM27 599h1v1h-1zM28 599h1v1h-1zM29 598h1v1h-1zM30 597h1v1h-1zM31 597h1v1h-1zM32 596h1v1h-1zM33 596h1v1h-1zM34 596h1v1h-1zM35 596h1v1h-1zM36 596h1v1h-1zM37 596h1v1h-1zM38 596h1v1h-1zM39 596h1v1h-1zM40 596h1v1h-1zM41 595h1v1h-1zM42 595h1v1h-1zM43 594h1v1h-1zM44 594h1v3h-1zM45 597h1v6h-1zM46 603h1v6h-1zM47 609h1v6h-1zM48 615h1v3h-1zM49 618h1v1h-1zM50 619h1v1h-1zM51 619h1v1h-1zM52 620h1v1h-1zM53 618h1v2h-1zM54 617h1v1h-1zM55 615h1v2h-1zM56 614h1v1h-1zM57 613h1v1h-1zM58 612h1v1h-1zM59 612h1v1h-1zM60 611h1v1h-1zM61 612h1v1h-1zM62 612h1v1h-1zM63 613h1v1h-1zM64 613h1v1h-1zM65 613h1v1h-1zM66 612h1v1h-1zM67 612h1v1h-1zM68 612h1v2h-1zM69 614h1v3h-1zM70 617h1v2h-1zM71 619h1v3h-1zM72 622h1v2h-1zM73 622h1v1h-1zM74 621h1v1h-1zM75 621h1v1h-1zM76 620h1v1h-1zM77 621h1v1h-1zM78 621h1v1h-1zM79 622h1v1h-1zM80 622h1v1h-1zM81 621h1v1h-1zM82 620h1v1h-1zM83 620h1v1h-1zM84 619h1v1h-1zM85 619h1v1h-1zM86 618h1v1h-1zM87 618h1v1h-1zM88 618h1v1h-1zM89 617h1v1h-1zM90 615h1v2h-1zM91 614h1v1h-1zM92 613h1v1h-1zM93 614h1v1h-1zM94 614h1v1h-1zM95 615h1v1h-1zM96 615h1v1h-1zM97 615h1v1h-1zM98 614h1v1h-1zM99 614h1v1h-1zM100 614h1v1h-1zM101 615h1v1h-1zM102 616h1v1h-1zM103 616h1v1h-1zM104 617h1v1h-1zM105 616h1v1h-1zM106 616h1v1h-1zM107 615h1v1h-1zM108 615h1v1h-1zM109 616h1v1h-1zM110 617h1v1h-1zM111 617h1v1h-1zM112 618h1v1h-1zM113 616h1v2h-1zM114 614h1v2h-1zM115 612h1v2h-1zM116 611h1v1h-1zM117 612h1v1h-1zM118 613h1v1h-1zM119 614h1v1h-1zM120 615h1v1h-1zM121 615h1v1h-1zM122 614h1v1h-1zM123 614h1v1h-1zM124 614h1v1h-1zM125 614h1v1h-1zM126 615h1v1h-1zM127 615h1v1h-1zM128 615h1v1h-1zM129 616h1v1h-1zM130 617h1v2h-1zM131 619h1v1h-1zM132 620h1v1h-1zM133 621h1v1h-1zM134 622h1v2h-1zM135 624h1v1h-1zM136 625h1v1h-1zM137 626h1v1h-1zM138 627h1v1h-1zM139 627h1v1h-1zM140 628h1v1h-1zM141 626h1v2h-1zM142 625h1v1h-1zM143 623h1v2h-1zM144 622h1v1h-1zM145 622h1v1h-1zM146 622h1v1h-1zM147 622h1v1h-1zM148 622h1v1h-1zM149 621h1v1h-1zM150 621h1v1h-1zM151 620h1v1h-1zM152 620h1v1h-1zM153 621h1v1h-1zM154 622h1v1h-1zM155 622h1v1h-1zM156 623h1v1h-1zM157 623h1v1h-1zM158 623h1v1h-1zM159 623h1v1h-1zM160 623h1v1h-1zM161 623h1v1h-1zM162 623h1v1h-1zM163 623h1v1h-1zM164 623h1v1h-1zM165 623h1v1h-1zM166 622h1v1h-1zM167 622h1v1h-1zM168 622h1v1h-1zM169 622h1v1h-1zM170 623h1v1h-1zM171 623h1v1h-1zM172 623h1v1h-1zM173 621h1v2h-1zM174 619h1v2h-1zM175 617h1v2h-1zM176 616h1v1h-1zM177 616h1v1h-1zM178 616h1v1h-1zM179 616h1v1h-1zM180 616h1v1h-1zM181 617h1v1h-1zM182 618h1v1h-1zM183 618h1v1h-1zM184 619h1v1h-1zM185 619h1v1h-1zM186 618h1v1h-1zM187 618h1v1h-1zM188 618h1v1h-1zM189 618h1v1h-1zM190 619h1v1h-1zM191 619h1v1h-1zM192 619h1v1h-1zM193 619h1v1h-1zM194 619h1v1h-1zM195 619h1v1h-1zM196 619h1v1h-1zM197 619h1v1h-1zM198 620h1v1h-1zM199 620h1v1h-1zM200 620h1v1h-1zM201 620h1v1h-1zM202 619h1v1h-1zM203 619h1v1h-1zM204 618h1v2h-1zM205 615h1v3h-1zM206 612h1v3h-1zM207 609h1v3h-1zM208 607h1v2h-1zM209 606h1v1h-1zM210 606h1v1h-1zM211 605h1v1h-1zM212 605h1v1h-1zM213 606h1v1h-1zM214 606h1v1h-1zM215 607h1v1h-1zM216 607h1v1h-1zM217 607h1v1h-1zM218 607h1v1h-1zM219 607h1v1h-1zM220 607h1v1h-1zM221 606h1v1h-1zM222 605h1v1h-1zM223 605h1v1h-1zM224 604h1v1h-1zM225 605h1v1h-1zM226 606h1v1h-1zM227 606h1v1h-1zM228 607h1v1h-1zM229 606h1v1h-1zM230 606h1v1h-1zM231 605h1v1h-1zM232 605h1v1h-1zM233 606h1v1h-1zM234 607h1v2h-1zM235 609h1v1h-1zM236 610h1v1h-1zM237 610h1v1h-1zM238 609h1v1h-1zM239 609h1v1h-1zM240 609h1v1h-1zM241 608h1v1h-1zM242 607h1v1h-1zM243 607h1v1h-1zM244 606h1v1h-1zM245 605h1v1h-1zM246 604h1v1h-1zM247 603h1v1h-1zM248 602h1v1h-1zM249 603h1v1h-1zM250 604h1v1h-1zM251 605h1v1h-1zM252 606h1v1h-1zM253 606h1v1h-1zM254 607h1v1h-1zM255 607h1v1h-1zM256 607h1v1h-1zM257 608h1v1h-1zM258 608h1v1h-1zM259 609h1v1h-1zM260 609h1v1h-1zM261 610h1v2h-1zM262 612h1v1h-1zM263 613h1v2h-1zM264 615h1v1h-1zM265 616h1v1h-1zM266 616h1v1h-1zM267 617h1v1h-1zM268 617h1v1h-1zM269 615h1v2h-1zM270 613h1v2h-1zM271 611h1v2h-1zM272 610h1v1h-1zM273 611h1v2h-1zM274 613h1v2h-1zM275 615h1v2h-1zM276 617h1v2h-1zM277 616h1v2h-1zM278 614h1v2h-1zM279 612h1v2h-1zM280 611h1v1h-1zM281 611h1v1h-1zM282 610h1v1h-1zM283 610h1v1h-1zM284 610h1v1h-1zM285 608h1v2h-1zM286 606h1v2h-1zM287 604h1v2h-1zM288 602h1v2h-1zM289 603h1v1h-1zM290 603h1v1h-1zM291 604h1v1h-1zM292 604h1v1h-1zM293 603h1v1h-1zM294 603h1v1h-1zM295 602h1v1h-1zM296 602h1v1h-1zM297 603h1v1h-1zM298 604h1v1h-1zM299 605h1v1h-1zM300 606h1v2h-1zM301 608h1v2h-1zM302 610h1v3h-1zM303 613h1v2h-1zM304 615h1v2h-1zM305 616h1v1h-1zM306 617h1v1h-1zM307 617h1v1h-1zM308 617h1v1h-1zM309 616h1v1h-1zM310 615h1v1h-1zM311 614h1v1h-1zM312 613h1v1h-1zM313 613h1v1h-1zM314 612h1v1h-1zM315 612h1v1h-1zM316 612h1v1h-1zM317 613h1v1h-1zM318 613h1v1h-1zM319 614h1v1h-1zM320 614h1v1h-1zM321 613h1v1h-1zM322 613h1v1h-1zM323 612h1v1h-1zM324 612h1v1h-1zM325 613h1v1h-1zM326 614h1v1h-1zM327 614h1v1h-1zM328 615h1v1h-1zM329 614h1v1h-1zM330 614h1v1h-1zM331 613h1v1h-1zM332 613h1v1h-1zM333 614h1v1h-1zM334 615h1v1h-1zM335 616h1v1h-1zM336 617h1v1h-1zM337 617h1v1h-1zM338 617h1v1h-1zM339 617h1v1h-1zM340 617h1v1h-1zM341 617h1v1h-1zM342 616h1v1h-1zM343 616h1v1h-1zM344 616h1v1h-1zM345 616h1v1h-1zM346 616h1v1h-1zM347 616h1v1h-1zM348 616h1v1h-1zM349 616h1v1h-1zM350 616h1v1h-1zM351 616h1v1h-1zM352 616h1v1h-1zM353 616h1v1h-1zM354 617h1v1h-1zM355 617h1v1h-1zM356 617h1v1h-1zM357 618h1v1h-1zM358 619h1v1h-1zM359 619h1v1h-1zM360 620h1v1h-1zM361 620h1v1h-1zM362 620h1v1h-1zM363 620h1v1h-1zM364 620h1v1h-1zM365 619h1v1h-1zM366 617h1v2h-1zM367 616h1v1h-1zM368 615h1v1h-1zM369 614h1v1h-1zM370 613h1v1h-1zM371 613h1v1h-1zM372 612h1v1h-1zM373 613h1v1h-1zM374 613h1v1h-1zM375 614h1v1h-1zM376 614h1v2h-1zM377 616h1v3h-1zM378 619h1v2h-1zM379 621h1v3h-1zM380 624h1v2h-1zM381 621h1v3h-1zM382 619h1v2h-1zM383 616h1v3h-1zM384 614h1v2h-1zM385 614h1v1h-1zM386 614h1v1h-1zM387 614h1v1h-1zM388 614h1v1h-1zM389 613h1v1h-1zM390 613h1v1h-1zM391 612h1v1h-1zM392 612h1v1h-1zM393 613h1v1h-1zM394 614h1v1h-1zM395 614h1v1h-1zM396 615h1v1h-1zM397 615h1v1h-1zM398 616h1v1h-1zM399 616h1v1h-1zM400 616h1v1h-1zM401 615h1v1h-1zM402 614h1v1h-1zM403 614h1v1h-1zM404 613h1v1h-1zM405 614h1v2h-1zM406 616h1v1h-1zM407 617h1v2h-1zM408 619h1v1h-1zM409 619h1v1h-1zM410 619h1v1h-1zM411 619h1v1h-1zM412 619h1v1h-1zM413 618h1v1h-1zM414 618h1v1h-1zM415 617h1v1h-1zM416 617h1v1h-1zM417 618h1v1h-1zM418 619h1v1h-1zM419 620h1v1h-1zM420 621h1v1h-1zM421 620h1v1h-1zM422 619h1v1h-1zM423 618h1v1h-1zM424 617h1v2h-1zM425 619h1v3h-1zM426 622h1v3h-1zM427 625h1v3h-1zM428 628h1v2h-1zM429 630h1v1h-1zM430 631h1v1h-1zM431 631h1v1h-1zM432 632h1v1h-1zM433 632h1v1h-1zM434 632h1v1h-1zM435 632h1v1h-1zM436 632h1v1h-1zM437 631h1v1h-1zM438 630h1v1h-1zM439 630h1v1h-1zM440 629h1v1h-1zM441 629h1v1h-1zM442 629h1v1h-1zM443 629h1v1h-1zM444 629h1v1h-1zM445 627h1v2h-1zM446 625h1v2h-1zM447 623h1v2h-1zM448 621h1v2h-1zM449 622h1v1h-1zM450 622h1v1h-1zM451 623h1v1h-1zM452 623h1v1h-1zM453 622h1v1h-1zM454 621h1v1h-1zM455 621h1v1h-1zM456 620h1v1h-1zM457 620h1v1h-1zM458 621h1v1h-1zM459 621h1v1h-1zM460 621h1v1h-1zM461 621h1v1h-1zM462 622h1v1h-1zM463 622h1v1h-1zM464 622h1v1h-1zM465 623h1v1h-1zM466 624h1v2h-1zM467 626h1v1h-1zM468 627h1v1h-1zM469 627h1v1h-1zM470 628h1v1h-1zM471 628h1v1h-1zM472 628h1v1h-1zM473 629h1v1h-1zM474 629h1v1h-1zM475 630h1v1h-1zM476 630h1v1h-1zM477 629h1v1h-1zM478 628h1v1h-1zM479 627h1v1h-1zM480 626h1v1h-1zM481 625h1v1h-1zM482 624h1v1h-1zM483 623h1v1h-1zM484 622h1v1h-1zM485 622h1v1h-1zM486 622h1v1h-1zM487 622h1v1h-1zM488 622h1v1h-1zM489 623h1v1h-1zM490 624h1v1h-1zM491 624h1v1h-1zM492 625h1v1h-1zM493 625h1v1h-1zM494 626h1v1h-1zM495 626h1v1h-1zM496 626h1v1h-1zM497 627h1v1h-1zM498 628h1v1h-1zM499 629h1v1h-1zM500 630h1v1h-1zM501 628h1v2h-1zM502 627h1v1h-1zM503 625h1v2h-1zM504 624h1v1h-1zM505 623h1v1h-1zM506 623h1v1h-1zM507 622h1v1h-1zM508 622h1v1h-1zM509 622h1v1h-1zM510 622h1v1h-1zM511 622h1v1h-1zM512 622h1v1h-1zM513 623h1v1h-1zM514 623h1v1h-1zM515 624h1v1h-1zM516 624h1v1h-1zM517 624h1v1h-1zM518 625h1v1h-1zM519 625h1v1h-1zM520 625h1v1h-1zM521 626h1v1h-1zM522 627h1v1h-1zM523 627h1v1h-1zM524 628h1v1h-1zM525 629h1v1h-1zM526 629h1v1h-1zM527 630h1v1h-1zM528 630h1v1h-1zM529 630h1v1h-1zM530 631h1v1h-1zM531 631h1v1h-1zM532 631h1v1h-1zM533 632h1v1h-1zM534 633h1v1h-1zM535 634h1v1h-1zM536 635h1v1h-1zM537 635h1v1h-1zM538 636h1v1h-1zM539 636h1v1h-1zM540 636h1v1h-1zM541 635h1v1h-1zM542 633h1v2h-1zM543 632h1v1h-1zM544 631h1v1h-1zM545 630h1v1h-1zM546 630h1v1h-1zM547 629h1v1h-1zM548 629h1v1h-1zM549 629h1v1h-1zM550 629h1v1h-1zM551 629h1v1h-1zM552 629h1v1h-1zM553 629h1v1h-1zM554 629h1v1h-1zM555 629h1v1h-1zM556 629h1v1h-1zM557 628h1v1h-1zM558 627h1v1h-1zM559 626h1v1h-1zM560 625h1v1h-1zM561 626h1v1h-1zM562 626h1v1h-1zM563 627h1v1h-1zM564 627h1v1h-1zM565 628h1v1h-1zM566 628h1v1h-1zM567 629h1v1h-1zM568 628h1v2h-1zM569 626h1v2h-1zM570 624h1v2h-1zM571 622h1v2h-1zM572 620h1v2h-1zM573 621h1v1h-1zM574 622h1v2h-1zM575 624h1v1h-1zM576 625h1v1h-1zM577 626h1v1h-1zM578 626h1v1h-1zM579 627h1v1h-1zM580 627h1v1h-1zM581 626h1v1h-1zM582 624h1v2h-1zM583 623h1v1h-1zM584 622h1v1h-1zM585 621h1v1h-1zM586 620h1v1h-1zM587 620h1v1h-1zM588 619h1v1h-1zM589 619h1v1h-1zM590 620h1v1h-1zM591 620h1v1h-1zM592 620h1v1h-1zM593 619h1v1h-1zM594 617h1v2h-1zM595 616h1v1h-1zM596 615h1v1h-1zM597 616h1v2h-1zM598 618h1v2h-1zM599 620h1v2h-1zM600 622h1v1h-1zM601 622h1v1h-1zM602 622h1v1h-1zM603 622h1v1h-1zM604 622h1v1h-1zM605 622h1v1h-1zM606 623h1v1h-1zM607 623h1v1h-1zM608 623h1v1h-1zM609 623h1v1h-1zM610 622h1v1h-1zM611 622h1v1h-1zM612 622h1v1h-1zM613 621h1v1h-1zM614 620h1v1h-1zM615 619h1v1h-1zM616 618h1v1h-1zM617 619h1v1h-1zM618 620h1v1h-1zM619 620h1v1h-1zM620 621h1v1h-1zM621 620h1v1h-1zM622 619h1v1h-1zM623 618h1v1h-1zM624 617h1v1h-1zM625 617h1v1h-1zM626 617h1v1h-1zM627 617h1v1h-1zM628 617h1v1h-1zM629 618h1v1h-1zM630 619h1v1h-1zM631 620h1v1h-1zM632 621h1v1h-1zM633 622h1v2h-1zM634 624h1v2h-1zM635 626h1v2h-1zM636 628h1v2h-1zM637 630h1v1h-1zM638 630h1v1h-1zM639 631h1v1h-1zM640 631h1v1h-1zM641 632h1v1h-1zM642 633h1v1h-1zM643 634h1v1h-1zM644 635h1v1h-1zM645 636h1v1h-1zM646 636h1v1h-1zM647 637h1v1h-1zM648 637h1v1h-1zM649 637h1v1h-1zM650 637h1v1h-1zM651 637h1v1h-1zM652 636h1v2h-1zM653 633h1v3h-1zM654 631h1v2h-1zM655 628h1v3h-1zM656 626h1v2h-1zM657 624h1v2h-1zM658 623h1v1h-1zM659 621h1v2h-1zM660 620h1v1h-1zM661 620h1v1h-1zM662 619h1v1h-1zM663 619h1v1h-1zM664 619h1v1h-1zM665 619h1v1h-1zM666 620h1v1h-1zM667 620h1v1h-1zM668 620h1v1h-1zM669 618h1v2h-1zM670 617h1v1h-1zM671 615h1v2h-1zM672 614h1v1h-1zM673 614h1v1h-1zM674 613h1v1h-1zM675 613h1v1h-1zM676 613h1v1h-1zM677 614h1v1h-1zM678 614h1v1h-1zM679 615h1v1h-1zM680 615h1v1h-1zM681 615h1v1h-1zM682 614h1v1h-1zM683 614h1v1h-1zM684 614h1v1h-1zM685 612h1v2h-1zM686 611h1v1h-1zM687 609h1v2h-1zM688 608h1v1h-1zM689 607h1v1h-1zM690 606h1v1h-1zM691 606h1v1h-1zM692 605h1v1h-1zM693 604h1v1h-1zM694 603h1v1h-1zM695 603h1v1h-1zM696 602h1v1h-1zM697 601h1v1h-1zM698 601h1v1h-1zM699 600h1v1h-1zM700 600h1v1h-1zM701 601h1v1h-1zM702 602h1v1h-1zM703 603h1v1h-1zM704 604h1v1h-1zM705 605h1v1h-1zM706 606h1v2h-1zM707 608h1v1h-1zM708 609h1v1h-1zM709 610h1v1h-1zM710 611h1v1h-1zM711 611h1v1h-1zM712 612h1v1h-1zM713 612h1v1h-1zM714 611h1v1h-1zM715 611h1v1h-1zM716 611h1v1h-1zM717 611h1v1h-1zM718 612h1v1h-1zM719 612h1v1h-1zM720 612h1v1h-1zM721 612h1v1h-1zM722 613h1v1h-1zM723 613h1v1h-1zM724 613h1v1h-1zM725 613h1v1h-1zM726 612h1v1h-1zM727 612h1v1h-1zM728 612h1v1h-1zM729 613h1v1h-1zM730 614h1v2h-1zM731 616h1v1h-1zM732 617h1v1h-1zM733 617h1v1h-1zM734 618h1v1h-1zM735 618h1v1h-1zM736 618h1v1h-1zM737 619h1v1h-1zM738 620h1v1h-1zM739 621h1v1h-1zM740 622h1v1h-1zM741 622h1v1h-1zM742 623h1v1h-1zM743 623h1v1h-1zM744 623h1v1h-1zM745 623h1v1h-1zM746 624h1v1h-1zM747 624h1v1h-1zM748 624h1v1h-1zM749 625h1v1h-1zM750 625h1v1h-1zM751 626h1v1h-1zM752 626h1v1h-1zM753 626h1v1h-1zM754 627h1v1h-1zM755 627h1v1h-1zM756 627h1v1h-1zM757 626h1v1h-1zM758 625h1v1h-1zM759 624h1v1h-1zM760 623h1v1h-1zM761 622h1v1h-1zM762 620h1v2h-1zM763 619h1v1h-1zM764 618h1v1h-1zM765 619h1v1h-1zM766 620h1v1h-1zM767 621h1v1h-1zM768 622h1v1h-1zM769 622h1v1h-1zM770 622h1v1h-1zM771 622h1v1h-1zM772 622h1v1h-1zM773 621h1v1h-1zM774 620h1v1h-1zM775 619h1v1h-1zM776 618h1v1h-1zM777 619h1v2h-1zM778 621h1v1h-1zM779 622h1v2h-1zM780 624h1v1h-1zM781 625h1v1h-1zM782 626h1v1h-1zM783 627h1v1h-1zM784 628h1v1h-1zM785 626h1v2h-1zM786 625h1v1h-1zM787 623h1v2h-1zM788 622h1v1h-1zM789 621h1v1h-1zM790 619h1v2h-1zM791 618h1v1h-1zM792 617h1v1h-1zM793 617h1v1h-1zM794 617h1v1h-1zM795 617h1v1h-1zM796 617h1v1h-1zM797 616h1v1h-1zM798 616h1v1h-1zM799 615h1v1h-1zM800 615h1v1h-1zM801 614h1v1h-1zM802 614h1v1h-1zM803 613h1v1h-1zM804 613h1v1h-1zM805 614h1v1h-1zM806 615h1v2h-1zM807 617h1v1h-1zM808 618h1v1h-1zM809 616h1v2h-1zM810 614h1v2h-1zM811 612h1v2h-1zM812 610h1v2h-1zM813 611h1v1h-1zM814 611h1v1h-1zM815 612h1v1h-1zM816 612h1v1h-1zM817 612h1v1h-1zM818 612h1v1h-1zM819 612h1v1h-1zM820 612h1v1h-1zM821 610h1v2h-1zM822 609h1v1h-1zM823 607h1v2h-1zM824 606h1v1h-1zM825 606h1v1h-1zM826 606h1v1h-1zM827 606h1v1h-1zM828 606h1v1h-1zM829 606h1v1h-1zM830 606h1v1h-1zM831 606h1v1h-1zM832 606h1v1h-1zM833 605h1v1h-1zM834 603h1v2h-1zM835 602h1v1h-1zM836 601h1v1h-1zM837 601h1v1h-1zM838 602h1v1h-1zM839 602h1v1h-1zM840 602h1v1h-1zM841 602h1v1h-1zM842 601h1v1h-1zM843 601h1v1h-1zM844 601h1v1h-1zM845 601h1v1h-1zM846 602h1v1h-1zM847 602h1v1h-1zM848 602h1v1h-1zM849 600h1v2h-1zM850 599h1v1h-1zM851 597h1v2h-1zM852 596h1v1h-1zM853 595h1v1h-1zM854 595h1v1h-1zM855 594h1v1h-1zM856 594h1v1h-1zM857 595h1v1h-1zM858 596h1v1h-1zM859 597h1v1h-1zM860 598h1v1h-1zM861 599h1v1h-1zM862 600h1v2h-1zM863 602h1v1h-1zM864 603h1v1h-1zM865 603h1v1h-1zM866 602h1v1h-1zM867 602h1v1h-1zM868 602h1v1h-1zM869 601h1v1h-1zM870 601h1v1h-1zM871 600h1v1h-1zM872 600h1v1h-1zM873 600h1v1h-1zM874 599h1v1h-1zM875 599h1v1h-1zM876 599h1v1h-1zM877 599h1v1h-1zM878 598h1v1h-1zM879 598h1v1h-1zM880 598h1v1h-1zM881 597h1v1h-1zM882 596h1v1h-1zM883 596h1v1h-1zM884 595h1v1h-1zM885 596h1v2h-1zM886 598h1v2h-1zM887 600h1v2h-1zM888 602h1v1h-1zM889 601h1v1h-1zM890 601h1v1h-1zM891 600h1v1h-1zM892 600h1v1h-1zM893 600h1v1h-1zM894 600h1v1h-1zM895 600h1v1h-1zM896 600h1v2h-1zM897 602h1v4h-1zM898 606h1v4h-1zM899 610h1v4h-1zM900 614h1v2h-1zM901 615h1v1h-1zM902 615h1v1h-1zM903 615h1v1h-1zM904 615h1v1h-1zM905 616h1v1h-1zM906 617h1v1h-1zM907 617h1v1h-1zM908 618h1v1h-1zM909 618h1v1h-1zM910 618h1v1h-1zM911 618h1v1h-1zM912 618h1v1h-1zM913 618h1v1h-1zM914 619h1v1h-1zM915 619h1v1h-1zM916 619h1v1h-1zM917 618h1v1h-1zM918 617h1v1h-1zM919 617h1v1h-1zM920 616h1v1h-1zM921 616h1v1h-1zM922 616h1v1h-1zM923 616h1v1h-1z" fill="#1e90ff" shape-rendering="crispEdges"/>
<rect x="4" y="38" width="225" height="63" fill="#fff"/>
</svg>
<div class="tk" style="top:50px"></div>
<div class="ax" style="top:45px">0.79960</div>
<div class="tk" style="top:83px"></div>
<div class="ax" style="top:78px">0.79260</div>
<div class="tk" style="top:116px"></div>
<div class="ax" style="top:111px">0.78560</div>
<div class="tk" style="top:149px"></div>
<div class="ax" style="top:144px">0.77860</div>
<div class="tk" style="top:182px"></div>
<div class="ax" style="top:177px">0.77160</div>
<div class="tk" style="top:215px"></div>
<div class="ax" style="top:210px">0.76460</div>
<div class="tk" style="top:248px"></div>
<div class="ax" style="top:243px">0.75760</div>
<div class="tk" style="top:281px"></div>
<div class="ax" style="top:276px">0.75060</div>
<div class="tk" style="top:314px"></div>
<div class="ax" style="top:309px">0.74360</div>
<div class="tk" style="top:347px"></div>
<div class="ax" style="top:342px">0.73660</div>
<div class="tk" style="top:380px"></div>
<div class="ax" style="top:375px">0.72960</div>
<div class="tk" style="top:413px"></div>
<div class="ax" style="top:408px">0.72280</div>
<div class="tk" style="top:446px"></div>
<div class="ax" style="top:441px">0.71580</div>
<div class="pl" style="top:320px;background:#000000"><span>0.74136</span></div>
<div class="pl" style="top:174px;background:#ff0000"><span>0.77200</span></div>
<div class="pl" style="top:244px;background:#ff0000"><span>0.75716</span></div>
<div class="pl" style="top:325px;background:#00ff00"><span>0.74007</span></div>
<div class="pl" style="top:400px;background:#0000ff"><span>0.72411</span></div>
<div class="pl" style="top:471px;background:#0000ff"><span>0.70926</span></div>
<div class="pl" style="top:475px;background:#ff0000"><span>0.70820</span></div>
<div class="ax" style="top:486px;left:1170px">0.007015</div>
<div class="tk" style="top:527px"></div><div class="ax" style="top:522px;left:1170px">0.00</div>
<div class="ax" style="top:556px;left:1170px">-0.006923</div><div class="tk" style="top:567px"></div>
<div class="tk" style="top:572px"></div><div class="ax" style="top:572px;left:1170px">100</div>
<div class="ax" style="top:592px;left:1169px">70</div>
<div class="ax" style="top:627px;left:1169px">30</div>
<div class="ax" style="top:646px;left:1170px">0</div><div class="tk" style="top:657px"></div>
<div class="t9" style="left:8px;top:488px;transform:scaleX(0.993)">MACD(12,26,9)</div>
<div class="t9" style="left:77px;top:488px;transform:scaleX(0.937)">0.000927 0.003088</div>
<div class="t9" style="left:8px;top:574px;transform:scaleX(0.972)">RSI(14) 47.9372</div>
<svg class="a" style="left:6px;top:27px" width="10" height="8"><path d="M1 6.5 L8 6.5 L4.5 2.5 Z" fill="#000"/></svg>
<div class="t9" style="left:20px;top:25px;transform:scaleX(1.000)">AUDUSD,Daily</div>
<div class="t9" style="left:91px;top:25px;transform:scaleX(0.964)">0.74193 0.74302 0.74128 0.74136</div>
<div class="a" style="left:4px;top:659px;width:1px;height:3px;background:#000"></div>
<div class="t9" style="left:3.5px;top:662px;transform:scaleX(0.958)">13 Feb 2021</div>
<div class="a" style="left:68px;top:659px;width:1px;height:3px;background:#000"></div>
<div class="t9" style="left:67.5px;top:662px;transform:scaleX(0.958)">4 Mar 2021</div>
<div class="a" style="left:132px;top:659px;width:1px;height:3px;background:#000"></div>
<div class="t9" style="left:131.5px;top:662px;transform:scaleX(0.958)">23 Mar 2021</div>
<div class="a" style="left:196px;top:659px;width:1px;height:3px;background:#000"></div>
<div class="t9" style="left:195.5px;top:662px;transform:scaleX(0.958)">10 Apr 2021</div>
<div class="a" style="left:260px;top:659px;width:1px;height:3px;background:#000"></div>
<div class="t9" style="left:259.5px;top:662px;transform:scaleX(0.958)">29 Apr 2021</div>
<div class="a" style="left:324px;top:659px;width:1px;height:3px;background:#000"></div>
<div class="t9" style="left:323.5px;top:662px;transform:scaleX(0.958)">18 May 2021</div>
<div class="a" style="left:388px;top:659px;width:1px;height:3px;background:#000"></div>
<div class="t9" style="left:387.5px;top:662px;transform:scaleX(0.958)">5 Jun 2021</div>
<div class="a" style="left:452px;top:659px;width:1px;height:3px;background:#000"></div>
<div class="t9" style="left:451.5px;top:662px;transform:scaleX(0.958)">24 Jun 2021</div>
<div class="a" style="left:516px;top:659px;width:1px;height:3px;background:#000"></div>
<div class="t9" style="left:515.5px;top:662px;transform:scaleX(0.958)">13 Jul 2021</div>
<div class="a" style="left:580px;top:659px;width:1px;height:3px;background:#000"></div>
<div class="t9" style="left:579.5px;top:662px;transform:scaleX(0.958)">31 Jul 2021</div>
<div class="a" style="left:644px;top:659px;width:1px;height:3px;background:#000"></div>
<div class="t9" style="left:643.5px;top:662px;transform:scaleX(0.958)">19 Aug 2021</div>
<div class="a" style="left:708px;top:659px;width:1px;height:3px;background:#000"></div>
<div class="t9" style="left:707.5px;top:662px;transform:scaleX(0.958)">7 Sep 2021</div>
<div class="a" style="left:772px;top:659px;width:1px;height:3px;background:#000"></div>
<div class="t9" style="left:771.5px;top:662px;transform:scaleX(0.958)">25 Sep 2021</div>
<div class="a" style="left:836px;top:659px;width:1px;height:3px;background:#000"></div>
<div class="t9" style="left:835.5px;top:662px;transform:scaleX(0.958)">14 Oct 2021</div>
<div class="a" style="left:900px;top:659px;width:1px;height:3px;background:#000"></div>
<div class="t9" style="left:899.5px;top:662px;transform:scaleX(0.958)">2 Nov 2021</div>
<div class="a" style="left:7px;top:42px;width:52px;height:25px;background:#0000a4"></div>
<div class="a" style="left:174px;top:42px;width:52px;height:25px;background:#0000a4"></div>
<div class="a" style="left:7px;top:66px;width:109px;height:33px;background:#0000a4"></div>
<div class="a" style="left:118px;top:66px;width:108px;height:33px;background:#0000a4"></div>
<div class="a" style="left:8px;top:43px;width:50px;height:24px;background:linear-gradient(#5757ff,#3d3df2)"></div>
<div class="a" style="left:175px;top:43px;width:50px;height:24px;background:linear-gradient(#5757ff,#3d3df2)"></div>
<div class="a" style="left:8px;top:67px;width:107px;height:31px;background:linear-gradient(#3b3bf0,#0606b0)"></div>
<div class="a" style="left:119px;top:67px;width:106px;height:31px;background:linear-gradient(#3b3bf0,#0606b0)"></div>
<div class="a" style="left:11px;top:65px;width:44px;height:1px;background:#0a0a9c"></div>
<div class="a" style="left:11px;top:66px;width:44px;height:1px;background:#7070ff"></div>
<div class="a" style="left:178px;top:65px;width:44px;height:1px;background:#0a0a9c"></div>
<div class="a" style="left:178px;top:66px;width:44px;height:1px;background:#7070ff"></div>
<div class="a" style="left:61px;top:42px;width:109px;height:20px;background:#fff;border:1px solid #a9a9b0"></div>
<div class="a" style="left:82px;top:43px;width:1px;height:20px;background:#a9a9b0"></div>
<div class="a" style="left:150px;top:43px;width:1px;height:20px;background:#a9a9b0"></div>
<div class="a" style="left:63px;top:44px;width:18px;height:18px;background:linear-gradient(#f3f3f3,#e9e9e9 33%,#d9d9d9 34%,#d6d6d6)"></div>
<div class="a" style="left:152px;top:44px;width:18px;height:18px;background:linear-gradient(#f3f3f3,#e9e9e9 33%,#d9d9d9 34%,#d6d6d6)"></div>
<svg class="a" style="left:63px;top:44px" width="18" height="18" shape-rendering="crispEdges"><path d="M6 7h5v1h-5zM7 8h3v1h-3zM8 9h1v1h-1z" fill="#4a62c4"/></svg>
<svg class="a" style="left:152px;top:44px" width="18" height="18" shape-rendering="crispEdges"><path d="M6 9h5v1h-5zM7 8h3v1h-3zM8 7h1v1h-1z" fill="#4a62c4"/></svg>
<div class="a" style="left:83px;top:46px;width:64px;text-align:right;font-size:12px;line-height:14px;color:#000">3.00</div>
<div class="a" style="left:7px;top:46px;width:52px;text-align:center;font-size:12px;line-height:14px;color:#fff;transform:scaleX(.88)">SELL</div>
<div class="a" style="left:174px;top:46px;width:52px;text-align:center;font-size:12px;line-height:14px;color:#fff;transform:scaleX(.92)">BUY</div>
<div class="a" style="left:27px;top:83px;font-size:12px;line-height:14px;font-weight:bold;color:#fff">0.74</div>
<div class="a" style="left:137px;top:83px;font-size:12px;line-height:14px;font-weight:bold;color:#fff">0.74</div>
<div class="a" style="left:54px;top:64px;font-size:33px;line-height:36px;color:#fff;letter-spacing:-2px">13</div>
<div class="a" style="left:165px;top:64px;font-size:33px;line-height:36px;color:#fff;letter-spacing:-2px">15</div>
<div class="a" style="left:94px;top:67px;font-size:12px;line-height:13px;font-weight:bold;color:#fff">9</div>
<div class="a" style="left:205px;top:67px;font-size:12px;line-height:13px;font-weight:bold;color:#fff">3</div>

<div class="a" style="left:0;top:679px;width:1208px;height:1px;background:#e3e3e3"></div>
<div class="a" style="left:0;top:682px;width:1208px;height:23px;background:#f0f0f0"></div>
<div class="a" style="left:0;top:701px;width:1208px;height:1px;background:#fcfcfc"></div>
<div class="a" style="left:0;top:681px;width:1208px;height:1px;background:#000"></div>
<div class="a" style="left:0;top:682px;width:1px;height:18px;background:#696969"></div>
<div class="a" style="left:109px;top:681px;width:104px;height:19px;background:#000"></div>
<div class="a" style="left:110px;top:680px;width:102px;height:19px;background:#fff"></div>
<div class="tab" style="left:17.5px">EURUSD,Daily</div>
<div class="tab" style="left:223.5px">USDCHF,H4</div>
<div class="tab" style="left:312.3px">USDCAD,Daily</div>
<div class="tab" style="left:415.3px">USDCNH,Daily</div>
<div class="tab" style="left:521.2px">UKOil,H4</div>
<div class="tab" style="left:596px">DJ30,H1</div>
<div class="tab" style="left:664.8px">USDX,Weekly</div>
<div class="tab" style="left:764.2px">XAUUSD,H1</div>
<div class="tab" style="left:857.4px">GBPUSD,H1</div>
<div class="tab" style="left:948.4px">USDX,Weekly</div>
<div class="tab" style="left:119.8px;color:#000">AUDUSD,Daily</div>
<div class="sep" style="left:301px"></div>
<div class="sep" style="left:405px"></div>
<div class="sep" style="left:509px"></div>
<div class="sep" style="left:585px"></div>
<div class="sep" style="left:653px"></div>
<div class="sep" style="left:753px"></div>
<div class="sep" style="left:845px"></div>
<div class="sep" style="left:937px"></div>
<div class="sep" style="left:1037px"></div>
<svg class="a" style="left:1178px;top:684px" width="30" height="12"><path d="M7 2.5 L7 9.5 L4 6 Z M22.7 2.5 L22.7 9.5 L26 6 Z" fill="#808080"/></svg>
</body></html>
